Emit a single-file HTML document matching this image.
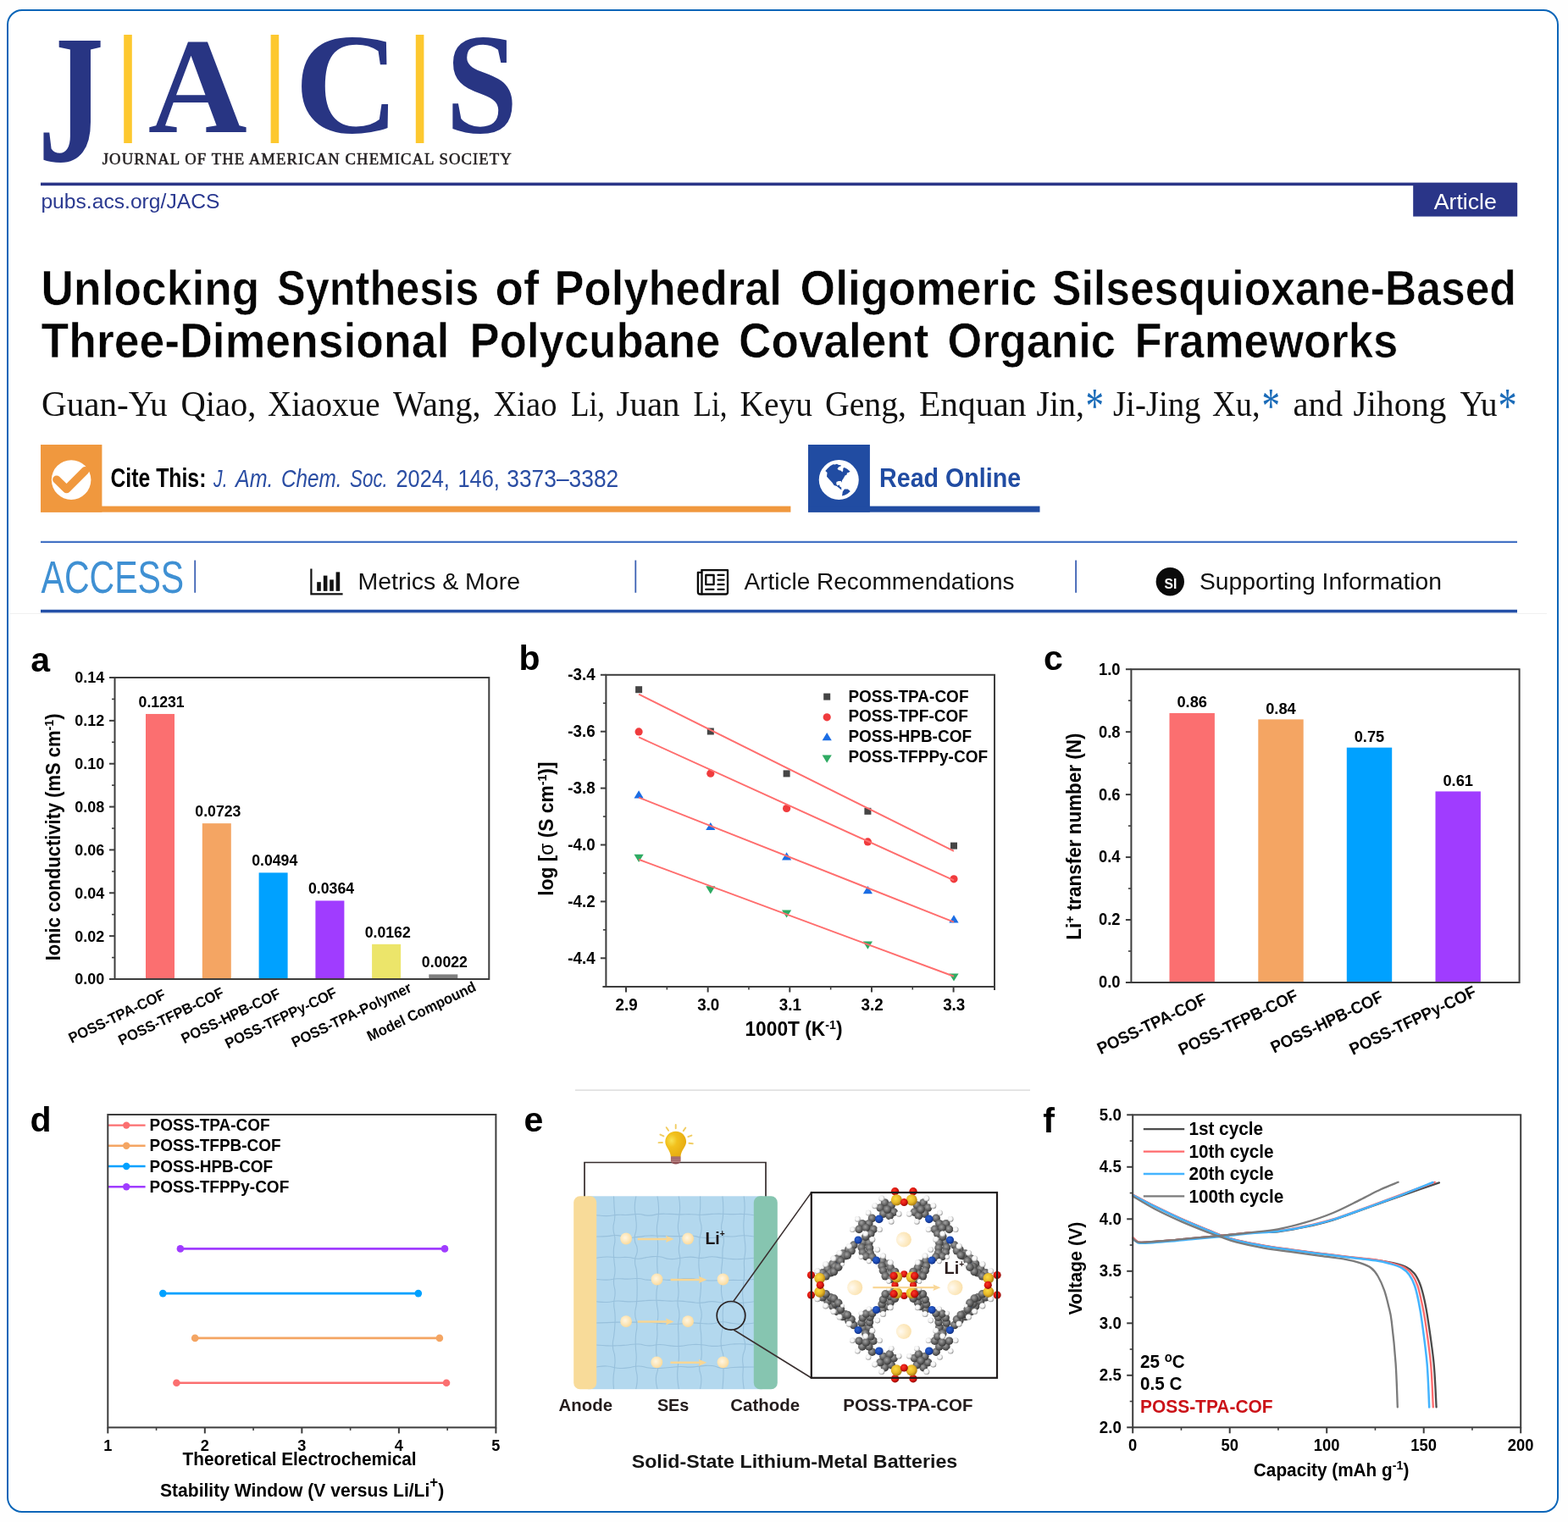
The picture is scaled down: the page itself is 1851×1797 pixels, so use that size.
<!DOCTYPE html>
<html lang="en">
<head>
<meta charset="utf-8">
<title>Unlocking Synthesis of Polyhedral Oligomeric Silsesquioxane-Based Three-Dimensional Polycubane Covalent Organic Frameworks</title>
<style>
html,body{margin:0;padding:0;background:#fff;}
body{width:1851px;height:1797px;overflow:hidden;}
svg{display:block;font-family:"Liberation Sans", Arial, Helvetica, sans-serif;font-weight:bold;}
svg .sf{font-family:"Liberation Serif", "Times New Roman", serif;}
</style>
</head>
<body>
<svg width="1851" height="1797" viewBox="0 0 1851 1797">
<rect width="1851" height="1797" fill="#fefefe"/>
<rect x="9" y="12" width="1830" height="1773" rx="17" ry="17" fill="#fff" stroke="#0a65b8" stroke-width="2"/>
<line x1="12" y1="724.5" x2="1826" y2="724.5" stroke="#f1f1f1" stroke-width="1"/>
<g class="sf" font-size="100" fill="#283583">
<text transform="translate(44.4 190.05) scale(1.5679 2.1633)">J</text>
<text transform="translate(174.65 155.78) scale(1.621 1.6081)">A</text>
<text transform="translate(347.85 155.78) scale(1.7074 1.6884)">C</text>
<text transform="translate(526.27 155.78) scale(1.5267 1.6884)">S</text>
</g>
<rect x="146.2" y="41" width="9.6" height="128" fill="#fdc82f"/>
<rect x="319.6" y="41" width="9.6" height="128" fill="#fdc82f"/>
<rect x="490.8" y="41" width="9.6" height="128" fill="#fdc82f"/>
<text x="120.8" y="194.2" font-size="18.7" class="sf" font-weight="normal" fill="#231f20" textLength="483" lengthAdjust="spacing" stroke="#231f20" stroke-width="0.55">JOURNAL OF THE AMERICAN CHEMICAL SOCIETY</text>
<rect x="48" y="215.6" width="1742.5" height="3.6" fill="#2a3588"/>
<rect x="1668.2" y="216" width="123" height="39.6" fill="#2a3588"/>
<text x="1729.8" y="247.1" font-size="25.8" font-weight="normal" fill="#fff" text-anchor="middle" textLength="74.2" lengthAdjust="spacingAndGlyphs">Article</text>
<text x="48.4" y="246.3" font-size="24.6" font-weight="normal" fill="#2a3990" textLength="211" lengthAdjust="spacingAndGlyphs">pubs.acs.org/JACS</text>
<g font-size="58" fill="#050505" stroke="#fefefe" stroke-width="0.6">
<text y="360"><tspan x="48.6" textLength="257.8" lengthAdjust="spacingAndGlyphs">Unlocking</tspan> <tspan x="327.1" textLength="238.3" lengthAdjust="spacingAndGlyphs">Synthesis</tspan> <tspan x="584.6" textLength="51.8" lengthAdjust="spacingAndGlyphs">of</tspan> <tspan x="654.6" textLength="268.3" lengthAdjust="spacingAndGlyphs">Polyhedral</tspan> <tspan x="944.6" textLength="279.3" lengthAdjust="spacingAndGlyphs">Oligomeric</tspan> <tspan x="1242.1" textLength="547.8" lengthAdjust="spacingAndGlyphs">Silsesquioxane-Based</tspan></text>
<text y="422"><tspan x="48.6" textLength="481.8" lengthAdjust="spacingAndGlyphs">Three-Dimensional</tspan> <tspan x="554.6" textLength="295.8" lengthAdjust="spacingAndGlyphs">Polycubane</tspan> <tspan x="872.1" textLength="224.3" lengthAdjust="spacingAndGlyphs">Covalent</tspan> <tspan x="1118.6" textLength="198.3" lengthAdjust="spacingAndGlyphs">Organic</tspan> <tspan x="1339.6" textLength="310.8" lengthAdjust="spacingAndGlyphs">Frameworks</tspan></text>
</g>
<text class="sf" font-size="42.5" font-weight="normal" fill="#111"><tspan x="49" y="491.3" textLength="148.5" lengthAdjust="spacingAndGlyphs">Guan-Yu</tspan> <tspan x="213.5" y="491.3" textLength="89" lengthAdjust="spacingAndGlyphs">Qiao,</tspan> <tspan x="316" y="491.3" textLength="132.5" lengthAdjust="spacingAndGlyphs">Xiaoxue</tspan> <tspan x="464" y="491.3" textLength="103.5" lengthAdjust="spacingAndGlyphs">Wang,</tspan> <tspan x="582.5" y="491.3" textLength="75" lengthAdjust="spacingAndGlyphs">Xiao</tspan> <tspan x="674" y="491.3" textLength="40" lengthAdjust="spacingAndGlyphs">Li,</tspan> <tspan x="727.5" y="491.3" textLength="75" lengthAdjust="spacingAndGlyphs">Juan</tspan> <tspan x="818.5" y="491.3" textLength="40" lengthAdjust="spacingAndGlyphs">Li,</tspan> <tspan x="873.5" y="491.3" textLength="85.5" lengthAdjust="spacingAndGlyphs">Keyu</tspan> <tspan x="974" y="491.3" textLength="96" lengthAdjust="spacingAndGlyphs">Geng,</tspan> <tspan x="1085" y="491.3" textLength="126.5" lengthAdjust="spacingAndGlyphs">Enquan</tspan> <tspan x="1223.5" y="491.3" textLength="56.5" lengthAdjust="spacingAndGlyphs">Jin,</tspan><tspan x="1281.5" y="498.6" font-size="58.6" fill="#1a6bb8" textLength="21.55" lengthAdjust="spacingAndGlyphs">*</tspan> <tspan x="1314" y="491.3" textLength="103.5" lengthAdjust="spacingAndGlyphs">Ji-Jing</tspan> <tspan x="1431" y="491.3" textLength="56.5" lengthAdjust="spacingAndGlyphs">Xu,</tspan><tspan x="1489.5" y="498.6" font-size="58.6" fill="#1a6bb8" textLength="21.55" lengthAdjust="spacingAndGlyphs">*</tspan> <tspan x="1526.5" y="491.3" textLength="58.5" lengthAdjust="spacingAndGlyphs">and</tspan> <tspan x="1597.5" y="491.3" textLength="110" lengthAdjust="spacingAndGlyphs">Jihong</tspan> <tspan x="1723.5" y="491.3" textLength="44" lengthAdjust="spacingAndGlyphs">Yu</tspan><tspan x="1768.5" y="498.6" font-size="58.6" fill="#1a6bb8" textLength="22.17" lengthAdjust="spacingAndGlyphs">*</tspan></text>
<rect x="48" y="525" width="72.4" height="79.7" fill="#f0983e"/>
<rect x="48" y="597.6" width="885.4" height="7.1" fill="#f0983e"/>
<circle cx="84.1" cy="566.6" r="23.3" fill="#fff"/>
<path d="M66.8 566.2 L78.6 577.6 L100.6 555.6" fill="none" stroke="#f0983e" stroke-width="9.4" stroke-linecap="round" stroke-linejoin="round"/>
<text x="130.4" y="574.9" font-size="30.6" textLength="113" lengthAdjust="spacingAndGlyphs">Cite This:</text>
<text y="574.9" font-size="30.4" font-weight="normal" fill="#2a4da3"><tspan x="252.1" font-style="italic" textLength="16.4" lengthAdjust="spacingAndGlyphs">J.</tspan> <tspan x="278" font-style="italic" textLength="44.5" lengthAdjust="spacingAndGlyphs">Am.</tspan> <tspan x="332" font-style="italic" textLength="71.6" lengthAdjust="spacingAndGlyphs">Chem.</tspan> <tspan x="413.1" font-style="italic" textLength="44.7" lengthAdjust="spacingAndGlyphs">Soc.</tspan> <tspan x="467.5" textLength="63.4" lengthAdjust="spacingAndGlyphs">2024,</tspan> <tspan x="540.4" textLength="49.5" lengthAdjust="spacingAndGlyphs">146,</tspan> <tspan x="598.3" textLength="131.9" lengthAdjust="spacingAndGlyphs">3373–3382</tspan></text>
<rect x="954" y="525" width="72.9" height="79.7" fill="#214ca2"/>
<rect x="954" y="597.6" width="273.5" height="7.1" fill="#214ca2"/>
<circle cx="990.25" cy="566.5" r="23.5" fill="#fff"/>
<path d="M974.3 555.9 L977.0 553.0 L980.3 550.0 L983.5 548.2 L985.7 548.5 L987.8 547.7 L990.2 548.9 L992.7 549.2 L992.8 550.3 L990.2 551.2 L988.5 553.6 L990.0 555.1 L992.9 555.8 L994.2 557.4 L995.2 555.7 L995.3 552.8 L996.9 552.1 L1000.2 553.8 L1003.6 556.7 L1002.0 557.8 L999.8 558.5 L999.8 560.3 L997.5 561.6 L995.9 564.4 L993.9 567.4 L993.9 569.8 L992.7 568.1 L990.0 568.0 L987.4 569.1 L987.3 571.8 L988.9 573.5 L990.5 572.3 L991.7 574.7 L993.2 575.6 L993.3 578.5 L991.1 576.8 L987.8 574.1 L984.6 573.1 L982.4 569.8 L979.4 566.6 L976.0 562.8 L976.5 557.9Z M994.0 585.6 L994.8 580.5 L996.9 577.4 L1000.8 577.5 L1003.8 580.0 L1000.8 582.8 L997.5 584.6Z" fill="#214ca2"/>
<text x="1038" y="574.9" font-size="30.6" fill="#214ca2" textLength="167.2" lengthAdjust="spacingAndGlyphs">Read Online</text>
<rect x="48" y="638.8" width="1743" height="2.2" fill="#4372c4"/>
<rect x="48" y="719.8" width="1743" height="3.6" fill="#2450a8"/>
<text x="48.6" y="699.6" font-size="54.2" font-weight="normal" fill="#3f90d3" textLength="168.6" lengthAdjust="spacingAndGlyphs">ACCESS</text>
<rect x="229.3" y="661.5" width="1.8" height="38.3" fill="#3d62b4"/>
<rect x="749.4" y="661.5" width="1.8" height="38.3" fill="#3d62b4"/>
<rect x="1269.2" y="661.5" width="1.8" height="38.3" fill="#3d62b4"/>
<path d="M367.4 671.6 V701.4 H404.6" fill="none" stroke="#111" stroke-width="2.2"/>
<rect x="374.2" y="687.2" width="4.6" height="10.6" fill="#111"/>
<rect x="381.8" y="679.6" width="4.6" height="18.2" fill="#111"/>
<rect x="389.2" y="684.4" width="4.6" height="13.4" fill="#111"/>
<rect x="396.6" y="675.4" width="4.6" height="22.4" fill="#111"/>
<text x="422.4" y="696.1" font-size="28.2" font-weight="normal" fill="#111" textLength="191.6" lengthAdjust="spacingAndGlyphs">Metrics &amp; More</text>
<g fill="none" stroke="#0a0a0a" stroke-width="2.3" stroke-linejoin="round" stroke-linecap="round"><path d="M828.5 673.1 H859 V699.3 Q859 701.5 856.8 701.5 H826.4 Q823.9 701.5 823.9 699 V675.8 H828.3"/><path d="M828.5 673.1 V701.4"/><rect x="833.3" y="679" width="9.3" height="11.2"/><path d="M847.6 678.9 H854.5 M847.6 684.6 H854.5 M847.6 690.2 H854.5 M847.6 695.9 H854.5 M833.3 695.9 H842.4"/></g>
<text x="878.4" y="696.1" font-size="28.2" font-weight="normal" fill="#111" textLength="319.2" lengthAdjust="spacingAndGlyphs">Article Recommendations</text>
<circle cx="1381.3" cy="686.7" r="16.7" fill="#0a0a0a"/>
<text x="1381.9" y="694.8" font-size="16.4" fill="#fff" text-anchor="middle" textLength="14.8" lengthAdjust="spacingAndGlyphs">SI</text>
<text x="1416" y="696.1" font-size="28.2" font-weight="normal" fill="#111" textLength="286" lengthAdjust="spacingAndGlyphs">Supporting Information</text>
<g id="pa"><text x="36.2" y="792.5" font-size="41">a</text>
<rect x="172" y="842.97" width="34" height="313.03" fill="#fb6f70"/>
<rect x="238.8" y="972.15" width="34" height="183.85" fill="#f4a563"/>
<rect x="305.6" y="1030.38" width="34" height="125.62" fill="#00a1ff"/>
<rect x="372.4" y="1063.44" width="34" height="92.56" fill="#a03cff"/>
<rect x="439.1" y="1114.81" width="34" height="41.19" fill="#ece56a"/>
<rect x="506.3" y="1150.41" width="34" height="5.59" fill="#808080"/>
<rect x="135.5" y="800" width="441.8" height="356" fill="none" stroke="#3d3d3d" stroke-width="2"/>
<line x1="129" y1="1156" x2="135.5" y2="1156" stroke="#3d3d3d" stroke-width="2"/>
<text transform="translate(123.2 1162.4) scale(0.95 1)" font-size="18.94" text-anchor="end">0.00</text>
<line x1="132" y1="1130.57" x2="135.5" y2="1130.57" stroke="#3d3d3d" stroke-width="1.6"/>
<line x1="129" y1="1105.14" x2="135.5" y2="1105.14" stroke="#3d3d3d" stroke-width="2"/>
<text transform="translate(123.2 1111.54) scale(0.95 1)" font-size="18.94" text-anchor="end">0.02</text>
<line x1="132" y1="1079.71" x2="135.5" y2="1079.71" stroke="#3d3d3d" stroke-width="1.6"/>
<line x1="129" y1="1054.29" x2="135.5" y2="1054.29" stroke="#3d3d3d" stroke-width="2"/>
<text transform="translate(123.2 1060.69) scale(0.95 1)" font-size="18.94" text-anchor="end">0.04</text>
<line x1="132" y1="1028.86" x2="135.5" y2="1028.86" stroke="#3d3d3d" stroke-width="1.6"/>
<line x1="129" y1="1003.43" x2="135.5" y2="1003.43" stroke="#3d3d3d" stroke-width="2"/>
<text transform="translate(123.2 1009.83) scale(0.95 1)" font-size="18.94" text-anchor="end">0.06</text>
<line x1="132" y1="978" x2="135.5" y2="978" stroke="#3d3d3d" stroke-width="1.6"/>
<line x1="129" y1="952.57" x2="135.5" y2="952.57" stroke="#3d3d3d" stroke-width="2"/>
<text transform="translate(123.2 958.97) scale(0.95 1)" font-size="18.94" text-anchor="end">0.08</text>
<line x1="132" y1="927.14" x2="135.5" y2="927.14" stroke="#3d3d3d" stroke-width="1.6"/>
<line x1="129" y1="901.71" x2="135.5" y2="901.71" stroke="#3d3d3d" stroke-width="2"/>
<text transform="translate(123.2 908.11) scale(0.95 1)" font-size="18.94" text-anchor="end">0.10</text>
<line x1="132" y1="876.29" x2="135.5" y2="876.29" stroke="#3d3d3d" stroke-width="1.6"/>
<line x1="129" y1="850.86" x2="135.5" y2="850.86" stroke="#3d3d3d" stroke-width="2"/>
<text transform="translate(123.2 857.26) scale(0.95 1)" font-size="18.94" text-anchor="end">0.12</text>
<line x1="132" y1="825.43" x2="135.5" y2="825.43" stroke="#3d3d3d" stroke-width="1.6"/>
<line x1="129" y1="800" x2="135.5" y2="800" stroke="#3d3d3d" stroke-width="2"/>
<text transform="translate(123.2 806.4) scale(0.95 1)" font-size="18.94" text-anchor="end">0.14</text>
<text transform="translate(190.6 834.97) scale(0.95 1)" font-size="18.62" text-anchor="middle">0.1231</text>
<text transform="translate(257.4 964.15) scale(0.95 1)" font-size="18.62" text-anchor="middle">0.0723</text>
<text transform="translate(324.2 1022.38) scale(0.95 1)" font-size="18.62" text-anchor="middle">0.0494</text>
<text transform="translate(391 1055.44) scale(0.95 1)" font-size="18.62" text-anchor="middle">0.0364</text>
<text transform="translate(457.7 1106.81) scale(0.95 1)" font-size="18.62" text-anchor="middle">0.0162</text>
<text transform="translate(524.9 1142.41) scale(0.95 1)" font-size="18.62" text-anchor="middle">0.0022</text>
<text transform="translate(70.6 988.4) rotate(-90) scale(0.95 1)" font-size="23.11" text-anchor="middle">Ionic conductivity (mS cm<tspan dy="-8" font-size="14.98">-1</tspan><tspan dy="8">)</tspan></text>
<text transform="translate(196.6 1178.4) rotate(-25.6) scale(0.95 1)" font-size="17.49" text-anchor="end">POSS-TPA-COF</text>
<text transform="translate(265.6 1176) rotate(-25.6) scale(0.95 1)" font-size="17.49" text-anchor="end">POSS-TFPB-COF</text>
<text transform="translate(332.4 1177.4) rotate(-25.6) scale(0.95 1)" font-size="17.49" text-anchor="end">POSS-HPB-COF</text>
<text transform="translate(399 1176.2) rotate(-25.6) scale(0.95 1)" font-size="17.49" text-anchor="end">POSS-TFPPy-COF</text>
<text transform="translate(487.2 1170.2) rotate(-25.6) scale(0.95 1)" font-size="17.49" text-anchor="end">POSS-TPA-Polymer</text>
<text transform="translate(563.2 1169.2) rotate(-25.6) scale(0.95 1)" font-size="17.49" text-anchor="end">Model Compound</text></g>
<g id="pb"><text x="612.6" y="790.6" font-size="41">b</text>
<rect x="750.1" y="810.2" width="8" height="8" fill="#454545"/>
<rect x="834.8" y="859.5" width="8" height="8" fill="#454545"/>
<rect x="924.6" y="909.4" width="8" height="8" fill="#454545"/>
<rect x="1020.4" y="953.8" width="8" height="8" fill="#454545"/>
<rect x="1122" y="994.6" width="8" height="8" fill="#454545"/>
<circle cx="754.1" cy="863.9" r="4.6" fill="#f03b3d"/>
<circle cx="838.8" cy="913.2" r="4.6" fill="#f03b3d"/>
<circle cx="928.6" cy="954.5" r="4.6" fill="#f03b3d"/>
<circle cx="1024.4" cy="993.9" r="4.6" fill="#f03b3d"/>
<circle cx="1126" cy="1037.8" r="4.6" fill="#f03b3d"/>
<path d="M754.1 933.3 l5.6 9.2 h-11.2 z" fill="#1b6de4"/>
<path d="M838.8 970.9 l5.6 9.2 h-11.2 z" fill="#1b6de4"/>
<path d="M928.6 1006.2 l5.6 9.2 h-11.2 z" fill="#1b6de4"/>
<path d="M1024.4 1046 l5.6 9.2 h-11.2 z" fill="#1b6de4"/>
<path d="M1126 1080.2 l5.6 9.2 h-11.2 z" fill="#1b6de4"/>
<path d="M754.1 1017.9 l5.6 -9.2 h-11.2 z" fill="#2fab63"/>
<path d="M838.8 1055.4 l5.6 -9.2 h-11.2 z" fill="#2fab63"/>
<path d="M928.6 1083.6 l5.6 -9.2 h-11.2 z" fill="#2fab63"/>
<path d="M1024.4 1120.7 l5.6 -9.2 h-11.2 z" fill="#2fab63"/>
<path d="M1126 1158.6 l5.6 -9.2 h-11.2 z" fill="#2fab63"/>
<line x1="754.1" y1="819.6" x2="1126" y2="1004.8" stroke="#ff6e6e" stroke-width="2"/>
<line x1="754.1" y1="870.4" x2="1126" y2="1039.4" stroke="#ff6e6e" stroke-width="2"/>
<line x1="754.1" y1="941.6" x2="1126" y2="1088.6" stroke="#ff6e6e" stroke-width="2"/>
<line x1="754.1" y1="1014.8" x2="1126" y2="1152.8" stroke="#ff6e6e" stroke-width="2"/>
<rect x="715.4" y="796.8" width="458.6" height="368.2" fill="none" stroke="#3d3d3d" stroke-width="2"/>
<line x1="711.4" y1="1165" x2="715.4" y2="1165" stroke="#3d3d3d" stroke-width="2"/>
<line x1="708.9" y1="796.8" x2="715.4" y2="796.8" stroke="#3d3d3d" stroke-width="2"/>
<text transform="translate(702.6 803.3) scale(0.95 1)" font-size="19.8" text-anchor="end">-3.4</text>
<line x1="711.9" y1="830.25" x2="715.4" y2="830.25" stroke="#3d3d3d" stroke-width="1.6"/>
<line x1="708.9" y1="863.7" x2="715.4" y2="863.7" stroke="#3d3d3d" stroke-width="2"/>
<text transform="translate(702.6 870.2) scale(0.95 1)" font-size="19.8" text-anchor="end">-3.6</text>
<line x1="711.9" y1="897.15" x2="715.4" y2="897.15" stroke="#3d3d3d" stroke-width="1.6"/>
<line x1="708.9" y1="930.6" x2="715.4" y2="930.6" stroke="#3d3d3d" stroke-width="2"/>
<text transform="translate(702.6 937.1) scale(0.95 1)" font-size="19.8" text-anchor="end">-3.8</text>
<line x1="711.9" y1="964.05" x2="715.4" y2="964.05" stroke="#3d3d3d" stroke-width="1.6"/>
<line x1="708.9" y1="997.5" x2="715.4" y2="997.5" stroke="#3d3d3d" stroke-width="2"/>
<text transform="translate(702.6 1004) scale(0.95 1)" font-size="19.8" text-anchor="end">-4.0</text>
<line x1="711.9" y1="1030.95" x2="715.4" y2="1030.95" stroke="#3d3d3d" stroke-width="1.6"/>
<line x1="708.9" y1="1064.4" x2="715.4" y2="1064.4" stroke="#3d3d3d" stroke-width="2"/>
<text transform="translate(702.6 1070.9) scale(0.95 1)" font-size="19.8" text-anchor="end">-4.2</text>
<line x1="711.9" y1="1097.85" x2="715.4" y2="1097.85" stroke="#3d3d3d" stroke-width="1.6"/>
<line x1="708.9" y1="1131.3" x2="715.4" y2="1131.3" stroke="#3d3d3d" stroke-width="2"/>
<text transform="translate(702.6 1137.8) scale(0.95 1)" font-size="19.8" text-anchor="end">-4.4</text>
<line x1="739" y1="1165" x2="739" y2="1171.5" stroke="#3d3d3d" stroke-width="2"/>
<text transform="translate(739.6 1192.8) scale(0.95 1)" font-size="19.8" text-anchor="middle">2.9</text>
<line x1="835.65" y1="1165" x2="835.65" y2="1171.5" stroke="#3d3d3d" stroke-width="2"/>
<text transform="translate(836.25 1192.8) scale(0.95 1)" font-size="19.8" text-anchor="middle">3.0</text>
<line x1="932.3" y1="1165" x2="932.3" y2="1171.5" stroke="#3d3d3d" stroke-width="2"/>
<text transform="translate(932.9 1192.8) scale(0.95 1)" font-size="19.8" text-anchor="middle">3.1</text>
<line x1="1028.95" y1="1165" x2="1028.95" y2="1171.5" stroke="#3d3d3d" stroke-width="2"/>
<text transform="translate(1029.55 1192.8) scale(0.95 1)" font-size="19.8" text-anchor="middle">3.2</text>
<line x1="1125.6" y1="1165" x2="1125.6" y2="1171.5" stroke="#3d3d3d" stroke-width="2"/>
<text transform="translate(1126.2 1192.8) scale(0.95 1)" font-size="19.8" text-anchor="middle">3.3</text>
<line x1="787.33" y1="1165" x2="787.33" y2="1168.5" stroke="#3d3d3d" stroke-width="1.6"/>
<line x1="883.97" y1="1165" x2="883.97" y2="1168.5" stroke="#3d3d3d" stroke-width="1.6"/>
<line x1="980.62" y1="1165" x2="980.62" y2="1168.5" stroke="#3d3d3d" stroke-width="1.6"/>
<line x1="1077.28" y1="1165" x2="1077.28" y2="1168.5" stroke="#3d3d3d" stroke-width="1.6"/>
<line x1="1174" y1="1165" x2="1174" y2="1169" stroke="#3d3d3d" stroke-width="2"/>
<text transform="translate(937 1222.6) scale(0.95 1)" font-size="23.97" text-anchor="middle">1000T (K<tspan dy="-8" font-size="14.98">-1</tspan><tspan dy="8">)</tspan></text>
<text transform="translate(653 978.6) rotate(-90) scale(0.95 1)" font-size="23.97" text-anchor="middle">log [<tspan font-weight="normal">σ</tspan> (S cm<tspan dy="-8" font-size="14.98">-1</tspan><tspan dy="8">)]</tspan></text>
<rect x="972.2" y="818.6" width="8" height="8" fill="#454545"/>
<circle cx="976.2" cy="846.8" r="4.6" fill="#f03b3d"/>
<path d="M976.2 865 l5.6 9.2 h-11.2 z" fill="#1b6de4"/>
<path d="M976.2 900.8 l5.6 -9.2 h-11.2 z" fill="#2fab63"/>
<text transform="translate(1001.4 828.6) scale(0.95 1)" font-size="20.01">POSS-TPA-COF</text>
<text transform="translate(1001.4 852.4) scale(0.95 1)" font-size="20.01">POSS-TPF-COF</text>
<text transform="translate(1001.4 876.4) scale(0.95 1)" font-size="20.01">POSS-HPB-COF</text>
<text transform="translate(1001.4 900.4) scale(0.95 1)" font-size="20.01">POSS-TFPPy-COF</text></g>
<g id="pc"><text x="1232" y="791.4" font-size="41">c</text>
<rect x="1380.5" y="841.97" width="53.4" height="318.03" fill="#fb6f70"/>
<rect x="1485.3" y="849.37" width="53.4" height="310.63" fill="#f4a563"/>
<rect x="1589.8" y="882.65" width="53.4" height="277.35" fill="#00a1ff"/>
<rect x="1694.5" y="934.42" width="53.4" height="225.58" fill="#a03cff"/>
<rect x="1335.4" y="790.2" width="458.2" height="369.8" fill="none" stroke="#3d3d3d" stroke-width="2"/>
<line x1="1328.9" y1="1160" x2="1335.4" y2="1160" stroke="#3d3d3d" stroke-width="2"/>
<text transform="translate(1322.6 1166.4) scale(0.95 1)" font-size="19.37" text-anchor="end">0.0</text>
<line x1="1331.9" y1="1123.02" x2="1335.4" y2="1123.02" stroke="#3d3d3d" stroke-width="1.6"/>
<line x1="1328.9" y1="1086.04" x2="1335.4" y2="1086.04" stroke="#3d3d3d" stroke-width="2"/>
<text transform="translate(1322.6 1092.44) scale(0.95 1)" font-size="19.37" text-anchor="end">0.2</text>
<line x1="1331.9" y1="1049.06" x2="1335.4" y2="1049.06" stroke="#3d3d3d" stroke-width="1.6"/>
<line x1="1328.9" y1="1012.08" x2="1335.4" y2="1012.08" stroke="#3d3d3d" stroke-width="2"/>
<text transform="translate(1322.6 1018.48) scale(0.95 1)" font-size="19.37" text-anchor="end">0.4</text>
<line x1="1331.9" y1="975.1" x2="1335.4" y2="975.1" stroke="#3d3d3d" stroke-width="1.6"/>
<line x1="1328.9" y1="938.12" x2="1335.4" y2="938.12" stroke="#3d3d3d" stroke-width="2"/>
<text transform="translate(1322.6 944.52) scale(0.95 1)" font-size="19.37" text-anchor="end">0.6</text>
<line x1="1331.9" y1="901.14" x2="1335.4" y2="901.14" stroke="#3d3d3d" stroke-width="1.6"/>
<line x1="1328.9" y1="864.16" x2="1335.4" y2="864.16" stroke="#3d3d3d" stroke-width="2"/>
<text transform="translate(1322.6 870.56) scale(0.95 1)" font-size="19.37" text-anchor="end">0.8</text>
<line x1="1331.9" y1="827.18" x2="1335.4" y2="827.18" stroke="#3d3d3d" stroke-width="1.6"/>
<line x1="1328.9" y1="790.2" x2="1335.4" y2="790.2" stroke="#3d3d3d" stroke-width="2"/>
<text transform="translate(1322.6 796.6) scale(0.95 1)" font-size="19.37" text-anchor="end">1.0</text>
<text transform="translate(1407.2 835.17) scale(0.95 1)" font-size="19.26" text-anchor="middle">0.86</text>
<text transform="translate(1512 842.57) scale(0.95 1)" font-size="19.26" text-anchor="middle">0.84</text>
<text transform="translate(1616.5 875.85) scale(0.95 1)" font-size="19.26" text-anchor="middle">0.75</text>
<text transform="translate(1721.2 927.62) scale(0.95 1)" font-size="19.26" text-anchor="middle">0.61</text>
<text transform="translate(1276.2 987.6) rotate(-90) scale(0.95 1)" font-size="23.65" text-anchor="middle">Li<tspan dy="-8" font-size="14.98">+</tspan><tspan dy="8"> transfer number (N)</tspan></text>
<text transform="translate(1426 1184.6) rotate(-25.6) scale(0.95 1)" font-size="19.8" text-anchor="end">POSS-TPA-COF</text>
<text transform="translate(1533.6 1180) rotate(-25.6) scale(0.95 1)" font-size="19.8" text-anchor="end">POSS-TFPB-COF</text>
<text transform="translate(1634 1181.6) rotate(-25.6) scale(0.95 1)" font-size="19.8" text-anchor="end">POSS-HPB-COF</text>
<text transform="translate(1744 1175.6) rotate(-25.6) scale(0.95 1)" font-size="19.8" text-anchor="end">POSS-TFPPy-COF</text></g>
<g id="pd"><text x="35.6" y="1336.2" font-size="41">d</text>
<line x1="127.3" y1="1328.6" x2="171.6" y2="1328.6" stroke="#fb6f70" stroke-width="2.4"/>
<circle cx="149.2" cy="1328.6" r="4.2" fill="#fb6f70"/>
<text transform="translate(176.6 1335.1) scale(0.95 1)" font-size="20.01">POSS-TPA-COF</text>
<line x1="127.3" y1="1352.8" x2="171.6" y2="1352.8" stroke="#f4a563" stroke-width="2.4"/>
<circle cx="149.2" cy="1352.8" r="4.2" fill="#f4a563"/>
<text transform="translate(176.6 1359.3) scale(0.95 1)" font-size="20.01">POSS-TFPB-COF</text>
<line x1="127.3" y1="1377" x2="171.6" y2="1377" stroke="#00a1ff" stroke-width="2.4"/>
<circle cx="149.2" cy="1377" r="4.2" fill="#00a1ff"/>
<text transform="translate(176.6 1383.5) scale(0.95 1)" font-size="20.01">POSS-HPB-COF</text>
<line x1="127.3" y1="1401.3" x2="171.6" y2="1401.3" stroke="#a03cff" stroke-width="2.4"/>
<circle cx="149.2" cy="1401.3" r="4.2" fill="#a03cff"/>
<text transform="translate(176.6 1407.8) scale(0.95 1)" font-size="20.01">POSS-TFPPy-COF</text>
<line x1="212.9" y1="1474.4" x2="525" y2="1474.4" stroke="#a03cff" stroke-width="2.6"/>
<circle cx="212.9" cy="1474.4" r="4.3" fill="#a03cff"/>
<circle cx="525" cy="1474.4" r="4.3" fill="#a03cff"/>
<line x1="192.3" y1="1527.1" x2="493.8" y2="1527.1" stroke="#00a1ff" stroke-width="2.6"/>
<circle cx="192.3" cy="1527.1" r="4.3" fill="#00a1ff"/>
<circle cx="493.8" cy="1527.1" r="4.3" fill="#00a1ff"/>
<line x1="230.2" y1="1579.9" x2="518.9" y2="1579.9" stroke="#f4a563" stroke-width="2.6"/>
<circle cx="230.2" cy="1579.9" r="4.3" fill="#f4a563"/>
<circle cx="518.9" cy="1579.9" r="4.3" fill="#f4a563"/>
<line x1="208.4" y1="1632.8" x2="527" y2="1632.8" stroke="#fb6f70" stroke-width="2.6"/>
<circle cx="208.4" cy="1632.8" r="4.3" fill="#fb6f70"/>
<circle cx="527" cy="1632.8" r="4.3" fill="#fb6f70"/>
<rect x="127.3" y="1316" width="458.1" height="369.4" fill="none" stroke="#3d3d3d" stroke-width="2"/>
<line x1="127.3" y1="1685.4" x2="127.3" y2="1692.4" stroke="#3d3d3d" stroke-width="2"/>
<text transform="translate(127.3 1712.6) scale(0.95 1)" font-size="19.15" text-anchor="middle">1</text>
<line x1="184.56" y1="1685.4" x2="184.56" y2="1688.9" stroke="#3d3d3d" stroke-width="1.6"/>
<line x1="241.82" y1="1685.4" x2="241.82" y2="1692.4" stroke="#3d3d3d" stroke-width="2"/>
<text transform="translate(241.82 1712.6) scale(0.95 1)" font-size="19.15" text-anchor="middle">2</text>
<line x1="299.09" y1="1685.4" x2="299.09" y2="1688.9" stroke="#3d3d3d" stroke-width="1.6"/>
<line x1="356.35" y1="1685.4" x2="356.35" y2="1692.4" stroke="#3d3d3d" stroke-width="2"/>
<text transform="translate(356.35 1712.6) scale(0.95 1)" font-size="19.15" text-anchor="middle">3</text>
<line x1="413.61" y1="1685.4" x2="413.61" y2="1688.9" stroke="#3d3d3d" stroke-width="1.6"/>
<line x1="470.88" y1="1685.4" x2="470.88" y2="1692.4" stroke="#3d3d3d" stroke-width="2"/>
<text transform="translate(470.88 1712.6) scale(0.95 1)" font-size="19.15" text-anchor="middle">4</text>
<line x1="528.14" y1="1685.4" x2="528.14" y2="1688.9" stroke="#3d3d3d" stroke-width="1.6"/>
<line x1="585.4" y1="1685.4" x2="585.4" y2="1692.4" stroke="#3d3d3d" stroke-width="2"/>
<text transform="translate(585.4 1712.6) scale(0.95 1)" font-size="19.15" text-anchor="middle">5</text>
<text transform="translate(353.6 1730.2) scale(0.95 1)" font-size="21.88" text-anchor="middle">Theoretical Electrochemical</text>
<text transform="translate(356.6 1766.6) scale(0.95 1)" font-size="22.2" text-anchor="middle">Stability Window (V versus Li/Li<tspan dy="-10.5" font-size="17.76">+</tspan><tspan dy="10.5">)</tspan></text></g>
<g id="pe"><defs><radialGradient id="li" cx="0.42" cy="0.42" r="0.62"><stop offset="0" stop-color="#fff6e2"/><stop offset="0.55" stop-color="#fde7bb"/><stop offset="1" stop-color="#f9d99a"/></radialGradient><radialGradient id="li2" cx="0.3" cy="0.5" r="0.75"><stop offset="0" stop-color="#fffaf0"/><stop offset="0.5" stop-color="#fdecc8"/><stop offset="1" stop-color="#fadfa8"/></radialGradient><radialGradient id="bulb" cx="0.3" cy="0.36" r="0.75"><stop offset="0" stop-color="#f7e356"/><stop offset="0.35" stop-color="#f2c11d"/><stop offset="1" stop-color="#e5a910"/></radialGradient><radialGradient id="sg" cx="0.4" cy="0.38" r="0.65"><stop offset="0" stop-color="#a2a2a2"/><stop offset="0.5" stop-color="#6c6c6c"/><stop offset="1" stop-color="#333333"/></radialGradient><radialGradient id="sw" cx="0.42" cy="0.4" r="0.65"><stop offset="0" stop-color="#ffffff"/><stop offset="0.55" stop-color="#f1f1f1"/><stop offset="1" stop-color="#7d7d7d"/></radialGradient><radialGradient id="sb" cx="0.4" cy="0.38" r="0.65"><stop offset="0" stop-color="#2e62d0"/><stop offset="0.6" stop-color="#1a48b0"/><stop offset="1" stop-color="#0e2a78"/></radialGradient><radialGradient id="sr" cx="0.4" cy="0.38" r="0.65"><stop offset="0" stop-color="#f8382a"/><stop offset="0.55" stop-color="#de1710"/><stop offset="1" stop-color="#8a0a06"/></radialGradient><radialGradient id="sy" cx="0.4" cy="0.38" r="0.65"><stop offset="0" stop-color="#fadb45"/><stop offset="0.55" stop-color="#e9ba28"/><stop offset="1" stop-color="#a87a12"/></radialGradient></defs>
<line x1="679" y1="1287.2" x2="1216" y2="1287.2" stroke="#d6d6d6" stroke-width="1.2"/>
<text x="618.6" y="1335.8" font-size="41">e</text>
<path d="M690 1413 V1372.5 H904 V1413" fill="none" stroke="#352c2c" stroke-width="1.7"/>
<rect x="694" y="1412.3" width="206" height="227.9" fill="#b3d8ee"/>
<g fill="none" stroke="#8fb9d6" stroke-width="1.1" opacity="0.75"><path d="M724.5 1412.5C724.68 1416.29 724.74 1417.56 725.1 1425.14C725.46 1432.72 726.02 1430.19 725.69 1437.78C725.35 1445.36 723.91 1442.83 723.99 1450.42C724.07 1458 725.84 1455.47 725.95 1463.06C726.07 1470.64 724.68 1468.11 724.38 1475.69C724.08 1483.28 724.47 1480.75 724.96 1488.33C725.44 1495.92 726.15 1493.39 726 1500.97C725.86 1508.56 724.45 1506.03 724.47 1513.61C724.5 1521.19 726 1518.67 726.07 1526.25C726.15 1533.83 724.76 1531.31 724.73 1538.89C724.69 1546.47 725.61 1543.94 725.96 1551.53C726.31 1559.11 726.25 1556.58 725.89 1564.17C725.53 1571.75 725.51 1569.22 724.76 1576.81C724.01 1584.39 723.08 1581.86 723.39 1589.44C723.7 1597.03 725.16 1594.5 725.78 1602.08C726.39 1609.67 725.95 1607.14 725.44 1614.72C724.93 1622.31 724.35 1619.78 724.07 1627.36C723.78 1634.94 724.37 1636.21 724.5 1640"/><path d="M750.8 1412.5C750.34 1416.29 749.36 1417.56 749.28 1425.14C749.2 1432.72 749.98 1430.19 750.54 1437.78C751.1 1445.36 751.56 1442.83 751.15 1450.42C750.74 1458 748.82 1455.47 749.18 1463.06C749.54 1470.64 752.22 1468.11 752.34 1475.69C752.46 1483.28 749.83 1480.75 749.58 1488.33C749.33 1495.92 750.79 1493.39 751.52 1500.97C752.24 1508.56 751.83 1506.03 752.01 1513.61C752.18 1521.19 752.27 1518.67 752.1 1526.25C751.93 1533.83 752.16 1531.31 751.45 1538.89C750.74 1546.47 749.59 1543.94 749.73 1551.53C749.86 1559.11 751.65 1556.58 751.89 1564.17C752.12 1571.75 750.99 1569.22 750.52 1576.81C750.06 1584.39 750.11 1581.86 750.33 1589.44C750.54 1597.03 751.14 1594.5 751.23 1602.08C751.33 1609.67 750.32 1607.14 750.64 1614.72C750.95 1622.31 752.24 1619.78 752.29 1627.36C752.34 1634.94 751.25 1636.21 750.8 1640"/><path d="M776 1412.5C776.45 1416.29 777.2 1417.56 777.5 1425.14C777.8 1432.72 777.63 1430.19 777 1437.78C776.37 1445.36 775.61 1442.83 775.39 1450.42C775.16 1458 775.87 1455.47 776.25 1463.06C776.62 1470.64 776.79 1468.11 776.63 1475.69C776.47 1483.28 775.85 1480.75 775.71 1488.33C775.57 1495.92 775.87 1493.39 776.16 1500.97C776.45 1508.56 777.03 1506.03 776.68 1513.61C776.33 1521.19 775.41 1518.67 775 1526.25C774.59 1533.83 774.76 1531.31 775.32 1538.89C775.88 1546.47 776.74 1543.94 776.87 1551.53C777 1559.11 776.03 1556.58 775.75 1564.17C775.46 1571.75 776.22 1569.22 775.91 1576.81C775.61 1584.39 774.93 1581.86 774.72 1589.44C774.52 1597.03 774.62 1594.5 775.22 1602.08C775.82 1609.67 776.98 1607.14 776.72 1614.72C776.47 1622.31 774.58 1619.78 774.37 1627.36C774.15 1634.94 775.51 1636.21 776 1640"/><path d="M801.3 1412.5C801.69 1416.29 802.52 1417.56 802.6 1425.14C802.68 1432.72 802.23 1430.19 801.58 1437.78C800.93 1445.36 800.15 1442.83 800.43 1450.42C800.7 1458 802.21 1455.47 802.48 1463.06C802.76 1470.64 801.22 1468.11 801.34 1475.69C801.45 1483.28 803.05 1480.75 802.87 1488.33C802.68 1495.92 801.47 1493.39 800.73 1500.97C799.99 1508.56 800.3 1506.03 800.4 1513.61C800.5 1521.19 801.16 1518.67 801.05 1526.25C800.94 1533.83 799.76 1531.31 800.02 1538.89C800.29 1546.47 801.75 1543.94 801.93 1551.53C802.12 1559.11 800.92 1556.58 800.64 1564.17C800.35 1571.75 800.86 1569.22 800.98 1576.81C801.1 1584.39 800.89 1581.86 801.03 1589.44C801.17 1597.03 801.71 1594.5 801.45 1602.08C801.18 1609.67 800.64 1607.14 800.14 1614.72C799.65 1622.31 799.44 1619.78 799.79 1627.36C800.13 1634.94 800.85 1636.21 801.3 1640"/><path d="M826.6 1412.5C826.63 1416.29 826.86 1417.56 826.69 1425.14C826.52 1432.72 825.62 1430.19 826.04 1437.78C826.46 1445.36 828.13 1442.83 828.09 1450.42C828.06 1458 826.51 1455.47 825.91 1463.06C825.32 1470.64 826.4 1468.11 826.1 1475.69C825.8 1483.28 825.1 1480.75 824.92 1488.33C824.75 1495.92 824.78 1493.39 825.51 1500.97C826.23 1508.56 826.89 1506.03 827.33 1513.61C827.78 1521.19 827.38 1518.67 826.99 1526.25C826.6 1533.83 825.66 1531.31 826.03 1538.89C826.4 1546.47 828.01 1543.94 828.22 1551.53C828.43 1559.11 826.88 1556.58 826.73 1564.17C826.58 1571.75 827.38 1569.22 827.73 1576.81C828.08 1584.39 827.79 1581.86 827.9 1589.44C828.01 1597.03 828.76 1594.5 828.1 1602.08C827.44 1609.67 825.76 1607.14 825.69 1614.72C825.62 1622.31 827.59 1619.78 827.86 1627.36C828.13 1634.94 826.98 1636.21 826.6 1640"/><path d="M852.9 1412.5C853.16 1416.29 853.65 1417.56 853.76 1425.14C853.87 1432.72 853.91 1430.19 853.27 1437.78C852.63 1445.36 851.32 1442.83 851.64 1450.42C851.95 1458 853.9 1455.47 854.33 1463.06C854.76 1470.64 853.55 1468.11 853.07 1475.69C852.59 1483.28 853.17 1480.75 852.73 1488.33C852.29 1495.92 851.87 1493.39 851.6 1500.97C851.32 1508.56 851.79 1506.03 851.81 1513.61C851.83 1521.19 851.11 1518.67 851.66 1526.25C852.21 1533.83 853.2 1531.31 853.65 1538.89C854.11 1546.47 853.27 1543.94 853.19 1551.53C853.11 1559.11 853.86 1556.58 853.38 1564.17C852.9 1571.75 852.2 1569.22 851.59 1576.81C850.98 1584.39 850.6 1581.86 851.34 1589.44C852.09 1597.03 853.29 1594.5 854.09 1602.08C854.88 1609.67 854.08 1607.14 854 1614.72C853.92 1622.31 854.14 1619.78 853.81 1627.36C853.48 1634.94 853.17 1636.21 852.9 1640"/><path d="M878.2 1412.5C878.47 1416.29 879.09 1417.56 879.11 1425.14C879.12 1432.72 878.61 1430.19 878.25 1437.78C877.89 1445.36 877.67 1442.83 877.9 1450.42C878.12 1458 878.41 1455.47 879.01 1463.06C879.6 1470.64 880.05 1468.11 879.89 1475.69C879.73 1483.28 878.85 1480.75 878.48 1488.33C878.1 1495.92 878.79 1493.39 878.64 1500.97C878.49 1508.56 878.57 1506.03 877.97 1513.61C877.38 1521.19 876.79 1518.67 876.66 1526.25C876.53 1533.83 877.11 1531.31 877.55 1538.89C878 1546.47 878.07 1543.94 878.15 1551.53C878.22 1559.11 877.96 1556.58 877.8 1564.17C877.64 1571.75 877.03 1569.22 877.6 1576.81C878.18 1584.39 879.94 1581.86 879.72 1589.44C879.49 1597.03 877.58 1594.5 876.84 1602.08C876.1 1609.67 877.22 1607.14 877.25 1614.72C877.27 1622.31 876.64 1619.78 876.93 1627.36C877.21 1634.94 877.82 1636.21 878.2 1640"/><path d="M704 1434.7C707.72 1434.97 708.96 1435.69 716.4 1435.59C723.84 1435.5 721.36 1434.74 728.8 1434.38C736.24 1434.02 733.76 1434.66 741.2 1434.4C748.64 1434.14 746.16 1433.3 753.6 1433.51C761.04 1433.72 758.56 1435.14 766 1435.1C773.44 1435.07 770.96 1433.9 778.4 1433.39C785.84 1432.88 783.36 1433.27 790.8 1433.4C798.24 1433.53 795.76 1433.74 803.2 1433.83C810.64 1433.91 808.16 1433.57 815.6 1433.69C823.04 1433.81 820.56 1434.32 828 1434.22C835.44 1434.12 832.96 1433.66 840.4 1433.36C847.84 1433.05 845.36 1433.11 852.8 1433.2C860.24 1433.29 857.76 1433.56 865.2 1433.65C872.64 1433.74 870.16 1433.19 877.6 1433.5C885.04 1433.82 886.28 1434.34 890 1434.7"/><path d="M704 1460C707.72 1459.88 708.96 1460.02 716.4 1459.59C723.84 1459.16 721.36 1458.12 728.8 1458.58C736.24 1459.04 733.76 1460.59 741.2 1461.12C748.64 1461.65 746.16 1461 753.6 1460.34C761.04 1459.69 758.56 1459.27 766 1458.95C773.44 1458.62 770.96 1459.08 778.4 1459.26C785.84 1459.44 783.36 1459.44 790.8 1459.54C798.24 1459.64 795.76 1459.79 803.2 1459.59C810.64 1459.39 808.16 1458.43 815.6 1458.87C823.04 1459.3 820.56 1460.26 828 1461.05C835.44 1461.83 832.96 1461.82 840.4 1461.48C847.84 1461.13 845.36 1460.36 852.8 1459.9C860.24 1459.44 857.76 1460.29 865.2 1459.95C872.64 1459.61 870.16 1458.74 877.6 1458.76C885.04 1458.77 886.28 1459.63 890 1460"/><path d="M704 1485.2C707.72 1484.84 708.96 1484.15 716.4 1484.01C723.84 1483.86 721.36 1484.58 728.8 1484.73C736.24 1484.87 733.76 1484.06 741.2 1484.49C748.64 1484.93 746.16 1486.28 753.6 1486.19C761.04 1486.09 758.56 1484.91 766 1484.18C773.44 1483.46 770.96 1483.06 778.4 1483.77C785.84 1484.48 783.36 1486.1 790.8 1486.55C798.24 1487.01 795.76 1486.01 803.2 1485.28C810.64 1484.56 808.16 1484.13 815.6 1484.14C823.04 1484.15 820.56 1485.44 828 1485.33C835.44 1485.22 832.96 1483.79 840.4 1483.78C847.84 1483.77 845.36 1484.43 852.8 1485.28C860.24 1486.14 857.76 1486.33 865.2 1486.64C872.64 1486.94 870.16 1486.72 877.6 1486.29C885.04 1485.86 886.28 1485.53 890 1485.2"/><path d="M704 1510.5C707.72 1510.68 708.96 1511.3 716.4 1511.09C723.84 1510.87 721.36 1510.08 728.8 1509.78C736.24 1509.49 733.76 1510.18 741.2 1510.1C748.64 1510.02 746.16 1509.14 753.6 1509.5C761.04 1509.87 758.56 1510.99 766 1511.32C773.44 1511.64 770.96 1510.59 778.4 1510.6C785.84 1510.6 783.36 1511.52 790.8 1511.34C798.24 1511.15 795.76 1510.49 803.2 1509.99C810.64 1509.49 808.16 1509.24 815.6 1509.67C823.04 1510.1 820.56 1510.75 828 1511.43C835.44 1512.12 832.96 1511.92 840.4 1511.95C847.84 1511.99 845.36 1511.72 852.8 1511.56C860.24 1511.4 857.76 1511.45 865.2 1511.42C872.64 1511.39 870.16 1511.73 877.6 1511.45C885.04 1511.18 886.28 1510.79 890 1510.5"/><path d="M704 1536.8C707.72 1537.02 708.96 1537.77 716.4 1537.52C723.84 1537.27 721.36 1536.18 728.8 1535.98C736.24 1535.78 733.76 1536.74 741.2 1536.85C748.64 1536.97 746.16 1536.81 753.6 1536.37C761.04 1535.93 758.56 1535.68 766 1535.39C773.44 1535.09 770.96 1535.16 778.4 1535.38C785.84 1535.61 783.36 1535.93 790.8 1536.14C798.24 1536.35 795.76 1535.71 803.2 1536.08C810.64 1536.45 808.16 1536.75 815.6 1537.38C823.04 1538.01 820.56 1538.39 828 1538.17C835.44 1537.95 832.96 1536.66 840.4 1536.64C847.84 1536.62 845.36 1537.62 852.8 1538.11C860.24 1538.6 857.76 1538.25 865.2 1538.26C872.64 1538.28 870.16 1538.6 877.6 1538.17C885.04 1537.73 886.28 1537.21 890 1536.8"/><path d="M704 1562C707.72 1561.88 708.96 1561.85 716.4 1561.59C723.84 1561.34 721.36 1561.29 728.8 1561.16C736.24 1561.04 733.76 1561.2 741.2 1561.18C748.64 1561.16 746.16 1561.11 753.6 1561.09C761.04 1561.07 758.56 1560.73 766 1561.11C773.44 1561.5 770.96 1561.75 778.4 1562.37C785.84 1563 783.36 1563.01 790.8 1563.2C798.24 1563.4 795.76 1563.4 803.2 1563.02C810.64 1562.64 808.16 1562.11 815.6 1561.94C823.04 1561.77 820.56 1562.17 828 1562.46C835.44 1562.75 832.96 1563.41 840.4 1562.9C847.84 1562.39 845.36 1560.88 852.8 1560.75C860.24 1560.63 857.76 1561.74 865.2 1562.48C872.64 1563.22 870.16 1563.37 877.6 1563.23C885.04 1563.08 886.28 1562.37 890 1562"/><path d="M704 1588C707.72 1588.25 708.96 1588.62 716.4 1588.85C723.84 1589.07 721.36 1589.02 728.8 1588.75C736.24 1588.48 733.76 1588.45 741.2 1587.93C748.64 1587.42 746.16 1586.76 753.6 1587.04C761.04 1587.32 758.56 1588.73 766 1588.87C773.44 1589.01 770.96 1587.49 778.4 1587.5C785.84 1587.51 783.36 1588.33 790.8 1588.9C798.24 1589.48 795.76 1589.78 803.2 1589.41C810.64 1589.05 808.16 1588.2 815.6 1587.69C823.04 1587.17 820.56 1587.21 828 1587.7C835.44 1588.2 832.96 1589.05 840.4 1589.34C847.84 1589.63 845.36 1589.37 852.8 1588.67C860.24 1587.98 857.76 1587.55 865.2 1587.01C872.64 1586.47 870.16 1586.58 877.6 1586.88C885.04 1587.18 886.28 1587.66 890 1588"/><path d="M704 1614C707.72 1613.69 708.96 1612.59 716.4 1612.95C723.84 1613.32 721.36 1614.62 728.8 1615.21C736.24 1615.8 733.76 1615.6 741.2 1614.92C748.64 1614.24 746.16 1612.92 753.6 1612.94C761.04 1612.96 758.56 1614.23 766 1614.98C773.44 1615.73 770.96 1615.59 778.4 1615.44C785.84 1615.29 783.36 1615.04 790.8 1614.47C798.24 1613.9 795.76 1613.65 803.2 1613.55C810.64 1613.45 808.16 1614.34 815.6 1614.15C823.04 1613.95 820.56 1613.37 828 1612.89C835.44 1612.41 832.96 1611.79 840.4 1612.54C847.84 1613.3 845.36 1614.84 852.8 1615.41C860.24 1615.98 857.76 1614.85 865.2 1614.45C872.64 1614.05 870.16 1614.21 877.6 1614.08C885.04 1613.95 886.28 1614.02 890 1614"/></g>
<rect x="677.2" y="1412.3" width="27" height="227.9" rx="7.5" fill="#f8db99"/>
<rect x="889.8" y="1412.3" width="28" height="227.9" rx="7.5" fill="#86c5b0"/>
<circle cx="739.1" cy="1462.5" r="6.9" fill="url(#li)"/>
<circle cx="812.1" cy="1462.5" r="6.9" fill="url(#li)"/>
<line x1="752.7" y1="1462.9" x2="788.3" y2="1462.9" stroke="#f8d694" stroke-width="2.5"/>
<path d="M795.5 1462.9 l-9.6 -4.1 l1.6 4.1 l-1.6 4.1 z" fill="#f8d694"/>
<circle cx="775.5" cy="1510.5" r="6.9" fill="url(#li)"/>
<circle cx="853.5" cy="1510.5" r="6.9" fill="url(#li)"/>
<line x1="791.6" y1="1510.9" x2="827.2" y2="1510.9" stroke="#f8d694" stroke-width="2.5"/>
<path d="M834.4 1510.9 l-9.6 -4.1 l1.6 4.1 l-1.6 4.1 z" fill="#f8d694"/>
<circle cx="739.1" cy="1560.1" r="6.9" fill="url(#li)"/>
<circle cx="812.1" cy="1560.1" r="6.9" fill="url(#li)"/>
<line x1="752.7" y1="1560.5" x2="788.3" y2="1560.5" stroke="#f8d694" stroke-width="2.5"/>
<path d="M795.5 1560.5 l-9.6 -4.1 l1.6 4.1 l-1.6 4.1 z" fill="#f8d694"/>
<circle cx="775.3" cy="1608.4" r="6.9" fill="url(#li)"/>
<circle cx="853.5" cy="1608.4" r="6.9" fill="url(#li)"/>
<line x1="791.4" y1="1608.8" x2="827" y2="1608.8" stroke="#f8d694" stroke-width="2.5"/>
<path d="M834.2 1608.8 l-9.6 -4.1 l1.6 4.1 l-1.6 4.1 z" fill="#f8d694"/>
<text transform="translate(832.4 1468.8) scale(0.95 1)" font-size="20.54" fill="#1c1414">Li<tspan dy="-8.4" font-size="10.7">+</tspan></text>
<circle cx="863" cy="1553.3" r="16.8" fill="none" stroke="#2a2222" stroke-width="1.7"/>
<path d="M865.6 1536.8 L958 1407.6 M866 1570 L958 1627" fill="none" stroke="#3a3030" stroke-width="1.6"/>
<line x1="797.7" y1="1332.3" x2="797.7" y2="1327.9" stroke="#f1cd62" stroke-width="1.9" stroke-linecap="round"/>
<line x1="806.76" y1="1335.16" x2="809.29" y2="1331.55" stroke="#f1cd62" stroke-width="1.9" stroke-linecap="round"/>
<line x1="812.35" y1="1342.18" x2="816.43" y2="1340.53" stroke="#f1cd62" stroke-width="1.9" stroke-linecap="round"/>
<line x1="813.41" y1="1349.75" x2="817.79" y2="1350.21" stroke="#f1cd62" stroke-width="1.9" stroke-linecap="round"/>
<line x1="789.09" y1="1334.85" x2="786.7" y2="1331.16" stroke="#f1cd62" stroke-width="1.9" stroke-linecap="round"/>
<line x1="783.38" y1="1341.42" x2="779.39" y2="1339.56" stroke="#f1cd62" stroke-width="1.9" stroke-linecap="round"/>
<line x1="781.92" y1="1348.93" x2="777.53" y2="1349.16" stroke="#f1cd62" stroke-width="1.9" stroke-linecap="round"/>
<path d="M797.7 1335.7 C804.7 1335.7 810.1 1341.1 810.1 1348.1 C810.1 1354.1 803.9 1358.1 803.5 1365.7 L791.9 1365.7 C791.3 1358.1 785.3 1354.1 785.3 1348.1 C785.3 1341.1 790.7 1335.7 797.7 1335.7 Z" fill="url(#bulb)"/>
<path d="M791.9 1365.4 h11.6 v5.6 q-1 3.4 -5.8 3.6 q-4.8 -0.2 -5.8 -3.6 z" fill="#8c4c50"/>
<line x1="792.1" y1="1367.2" x2="803.3" y2="1367.2" stroke="#d9a9a6" stroke-width="0.8"/>
<line x1="792.1" y1="1369.4" x2="803.3" y2="1369.4" stroke="#d9a9a6" stroke-width="0.8"/>
<line x1="792.1" y1="1371.4" x2="803.3" y2="1371.4" stroke="#d9a9a6" stroke-width="0.8"/>
<rect x="957.8" y="1408" width="219.2" height="218.8" fill="#fff"/>
<circle cx="1066.9" cy="1463.5" r="9" fill="url(#li2)"/>
<circle cx="1009.2" cy="1520.2" r="9" fill="url(#li2)"/>
<circle cx="1127.4" cy="1520.2" r="9" fill="url(#li2)"/>
<circle cx="1066.9" cy="1572" r="9" fill="url(#li2)"/>
<g fill="url(#sb)"><circle cx="990.4" cy="1489.5" r="3.9"/><circle cx="990.4" cy="1545.1" r="3.9"/><circle cx="1144.2" cy="1489.5" r="3.9"/><circle cx="1144.2" cy="1545.1" r="3.9"/></g>
<g fill="url(#sg)"><circle cx="1044.5" cy="1420.0" r="4.8"/><circle cx="1052.2" cy="1423.0" r="4.8"/><circle cx="1039.1" cy="1426.0" r="4.8"/><circle cx="1055.2" cy="1431.1" r="4.8"/><circle cx="1042.8" cy="1433.1" r="4.8"/><circle cx="1050.2" cy="1435.7" r="4.8"/><circle cx="1047.5" cy="1428.0" r="4.8"/><circle cx="1029.5" cy="1438.4" r="4.8"/><circle cx="1025.8" cy="1444.7" r="4.8"/><circle cx="1017.8" cy="1444.7" r="4.8"/><circle cx="1031.1" cy="1451.4" r="4.8"/><circle cx="1014.1" cy="1451.4" r="4.8"/><circle cx="1027.8" cy="1456.8" r="4.8"/><circle cx="1022.4" cy="1449.7" r="4.8"/><circle cx="1019.1" cy="1466.8" r="4.8"/><circle cx="1025.8" cy="1467.4" r="4.8"/><circle cx="1017.1" cy="1472.8" r="4.8"/><circle cx="1026.5" cy="1473.5" r="4.8"/><circle cx="1018.4" cy="1478.8" r="4.8"/><circle cx="1027.1" cy="1479.5" r="4.8"/><circle cx="1022.4" cy="1483.5" r="4.8"/><circle cx="1029.8" cy="1484.1" r="4.8"/><circle cx="1021.8" cy="1460.1" r="4.8"/><circle cx="1041.8" cy="1488.8" r="4.8"/><circle cx="1048.5" cy="1492.2" r="4.8"/><circle cx="1041.1" cy="1494.8" r="4.8"/><circle cx="1051.2" cy="1496.8" r="4.8"/><circle cx="1042.5" cy="1500.2" r="4.8"/><circle cx="1050.5" cy="1504.2" r="4.8"/><circle cx="1045.2" cy="1506.8" r="4.8"/><circle cx="1051.8" cy="1510.2" r="4.8"/><circle cx="1056.5" cy="1501.5" r="4.8"/><circle cx="1007.8" cy="1470.1" r="4.8"/><circle cx="1001.7" cy="1475.5" r="4.8"/><circle cx="1005.1" cy="1476.8" r="4.8"/><circle cx="995.1" cy="1480.1" r="4.8"/><circle cx="997.7" cy="1482.8" r="4.8"/><circle cx="988.4" cy="1486.1" r="4.8"/><circle cx="992.4" cy="1488.8" r="4.8"/><circle cx="983.0" cy="1492.2" r="4.8"/><circle cx="985.7" cy="1495.5" r="4.8"/><circle cx="977.0" cy="1498.2" r="4.8"/><circle cx="980.4" cy="1502.8" r="4.8"/><circle cx="971.0" cy="1502.8" r="4.8"/><circle cx="975.0" cy="1506.8" r="4.8"/><circle cx="984.4" cy="1501.5" r="4.8"/><circle cx="989.7" cy="1496.2" r="4.8"/><circle cx="1000.4" cy="1482.1" r="4.8"/><circle cx="1044.5" cy="1614.6" r="4.8"/><circle cx="1052.2" cy="1611.6" r="4.8"/><circle cx="1039.1" cy="1608.6" r="4.8"/><circle cx="1055.2" cy="1603.5" r="4.8"/><circle cx="1042.8" cy="1601.5" r="4.8"/><circle cx="1050.2" cy="1598.9" r="4.8"/><circle cx="1047.5" cy="1606.6" r="4.8"/><circle cx="1029.5" cy="1596.2" r="4.8"/><circle cx="1025.8" cy="1589.9" r="4.8"/><circle cx="1017.8" cy="1589.9" r="4.8"/><circle cx="1031.1" cy="1583.2" r="4.8"/><circle cx="1014.1" cy="1583.2" r="4.8"/><circle cx="1027.8" cy="1577.8" r="4.8"/><circle cx="1022.4" cy="1584.9" r="4.8"/><circle cx="1019.1" cy="1567.8" r="4.8"/><circle cx="1025.8" cy="1567.2" r="4.8"/><circle cx="1017.1" cy="1561.8" r="4.8"/><circle cx="1026.5" cy="1561.1" r="4.8"/><circle cx="1018.4" cy="1555.8" r="4.8"/><circle cx="1027.1" cy="1555.1" r="4.8"/><circle cx="1022.4" cy="1551.1" r="4.8"/><circle cx="1029.8" cy="1550.5" r="4.8"/><circle cx="1021.8" cy="1574.5" r="4.8"/><circle cx="1041.8" cy="1545.8" r="4.8"/><circle cx="1048.5" cy="1542.4" r="4.8"/><circle cx="1041.1" cy="1539.8" r="4.8"/><circle cx="1051.2" cy="1537.8" r="4.8"/><circle cx="1042.5" cy="1534.4" r="4.8"/><circle cx="1050.5" cy="1530.4" r="4.8"/><circle cx="1045.2" cy="1527.8" r="4.8"/><circle cx="1051.8" cy="1524.4" r="4.8"/><circle cx="1056.5" cy="1533.1" r="4.8"/><circle cx="1007.8" cy="1564.5" r="4.8"/><circle cx="1001.7" cy="1559.1" r="4.8"/><circle cx="1005.1" cy="1557.8" r="4.8"/><circle cx="995.1" cy="1554.5" r="4.8"/><circle cx="997.7" cy="1551.8" r="4.8"/><circle cx="988.4" cy="1548.5" r="4.8"/><circle cx="992.4" cy="1545.8" r="4.8"/><circle cx="983.0" cy="1542.4" r="4.8"/><circle cx="985.7" cy="1539.1" r="4.8"/><circle cx="977.0" cy="1536.4" r="4.8"/><circle cx="980.4" cy="1531.8" r="4.8"/><circle cx="971.0" cy="1531.8" r="4.8"/><circle cx="975.0" cy="1527.8" r="4.8"/><circle cx="984.4" cy="1533.1" r="4.8"/><circle cx="989.7" cy="1538.4" r="4.8"/><circle cx="1000.4" cy="1552.5" r="4.8"/><circle cx="1090.1" cy="1420.0" r="4.8"/><circle cx="1082.4" cy="1423.0" r="4.8"/><circle cx="1095.5" cy="1426.0" r="4.8"/><circle cx="1079.4" cy="1431.1" r="4.8"/><circle cx="1091.8" cy="1433.1" r="4.8"/><circle cx="1084.4" cy="1435.7" r="4.8"/><circle cx="1087.1" cy="1428.0" r="4.8"/><circle cx="1105.1" cy="1438.4" r="4.8"/><circle cx="1108.8" cy="1444.7" r="4.8"/><circle cx="1116.8" cy="1444.7" r="4.8"/><circle cx="1103.5" cy="1451.4" r="4.8"/><circle cx="1120.5" cy="1451.4" r="4.8"/><circle cx="1106.8" cy="1456.8" r="4.8"/><circle cx="1112.2" cy="1449.7" r="4.8"/><circle cx="1115.5" cy="1466.8" r="4.8"/><circle cx="1108.8" cy="1467.4" r="4.8"/><circle cx="1117.5" cy="1472.8" r="4.8"/><circle cx="1108.1" cy="1473.5" r="4.8"/><circle cx="1116.2" cy="1478.8" r="4.8"/><circle cx="1107.5" cy="1479.5" r="4.8"/><circle cx="1112.2" cy="1483.5" r="4.8"/><circle cx="1104.8" cy="1484.1" r="4.8"/><circle cx="1112.8" cy="1460.1" r="4.8"/><circle cx="1092.8" cy="1488.8" r="4.8"/><circle cx="1086.1" cy="1492.2" r="4.8"/><circle cx="1093.5" cy="1494.8" r="4.8"/><circle cx="1083.4" cy="1496.8" r="4.8"/><circle cx="1092.1" cy="1500.2" r="4.8"/><circle cx="1084.1" cy="1504.2" r="4.8"/><circle cx="1089.4" cy="1506.8" r="4.8"/><circle cx="1082.8" cy="1510.2" r="4.8"/><circle cx="1078.1" cy="1501.5" r="4.8"/><circle cx="1126.8" cy="1470.1" r="4.8"/><circle cx="1132.9" cy="1475.5" r="4.8"/><circle cx="1129.5" cy="1476.8" r="4.8"/><circle cx="1139.5" cy="1480.1" r="4.8"/><circle cx="1136.9" cy="1482.8" r="4.8"/><circle cx="1146.2" cy="1486.1" r="4.8"/><circle cx="1142.2" cy="1488.8" r="4.8"/><circle cx="1151.6" cy="1492.2" r="4.8"/><circle cx="1148.9" cy="1495.5" r="4.8"/><circle cx="1157.6" cy="1498.2" r="4.8"/><circle cx="1154.2" cy="1502.8" r="4.8"/><circle cx="1163.6" cy="1502.8" r="4.8"/><circle cx="1159.6" cy="1506.8" r="4.8"/><circle cx="1150.2" cy="1501.5" r="4.8"/><circle cx="1144.9" cy="1496.2" r="4.8"/><circle cx="1134.2" cy="1482.1" r="4.8"/><circle cx="1090.1" cy="1614.6" r="4.8"/><circle cx="1082.4" cy="1611.6" r="4.8"/><circle cx="1095.5" cy="1608.6" r="4.8"/><circle cx="1079.4" cy="1603.5" r="4.8"/><circle cx="1091.8" cy="1601.5" r="4.8"/><circle cx="1084.4" cy="1598.9" r="4.8"/><circle cx="1087.1" cy="1606.6" r="4.8"/><circle cx="1105.1" cy="1596.2" r="4.8"/><circle cx="1108.8" cy="1589.9" r="4.8"/><circle cx="1116.8" cy="1589.9" r="4.8"/><circle cx="1103.5" cy="1583.2" r="4.8"/><circle cx="1120.5" cy="1583.2" r="4.8"/><circle cx="1106.8" cy="1577.8" r="4.8"/><circle cx="1112.2" cy="1584.9" r="4.8"/><circle cx="1115.5" cy="1567.8" r="4.8"/><circle cx="1108.8" cy="1567.2" r="4.8"/><circle cx="1117.5" cy="1561.8" r="4.8"/><circle cx="1108.1" cy="1561.1" r="4.8"/><circle cx="1116.2" cy="1555.8" r="4.8"/><circle cx="1107.5" cy="1555.1" r="4.8"/><circle cx="1112.2" cy="1551.1" r="4.8"/><circle cx="1104.8" cy="1550.5" r="4.8"/><circle cx="1112.8" cy="1574.5" r="4.8"/><circle cx="1092.8" cy="1545.8" r="4.8"/><circle cx="1086.1" cy="1542.4" r="4.8"/><circle cx="1093.5" cy="1539.8" r="4.8"/><circle cx="1083.4" cy="1537.8" r="4.8"/><circle cx="1092.1" cy="1534.4" r="4.8"/><circle cx="1084.1" cy="1530.4" r="4.8"/><circle cx="1089.4" cy="1527.8" r="4.8"/><circle cx="1082.8" cy="1524.4" r="4.8"/><circle cx="1078.1" cy="1533.1" r="4.8"/><circle cx="1126.8" cy="1564.5" r="4.8"/><circle cx="1132.9" cy="1559.1" r="4.8"/><circle cx="1129.5" cy="1557.8" r="4.8"/><circle cx="1139.5" cy="1554.5" r="4.8"/><circle cx="1136.9" cy="1551.8" r="4.8"/><circle cx="1146.2" cy="1548.5" r="4.8"/><circle cx="1142.2" cy="1545.8" r="4.8"/><circle cx="1151.6" cy="1542.4" r="4.8"/><circle cx="1148.9" cy="1539.1" r="4.8"/><circle cx="1157.6" cy="1536.4" r="4.8"/><circle cx="1154.2" cy="1531.8" r="4.8"/><circle cx="1163.6" cy="1531.8" r="4.8"/><circle cx="1159.6" cy="1527.8" r="4.8"/><circle cx="1150.2" cy="1533.1" r="4.8"/><circle cx="1144.9" cy="1538.4" r="4.8"/><circle cx="1134.2" cy="1552.5" r="4.8"/></g>
<g fill="url(#sb)"><circle cx="1037.8" cy="1439.4" r="4.8"/><circle cx="1013.1" cy="1464.1" r="4.6"/><circle cx="1034.5" cy="1488.1" r="4.6"/><circle cx="1037.8" cy="1595.2" r="4.8"/><circle cx="1013.1" cy="1570.5" r="4.6"/><circle cx="1034.5" cy="1546.5" r="4.6"/><circle cx="1096.8" cy="1439.4" r="4.8"/><circle cx="1121.5" cy="1464.1" r="4.6"/><circle cx="1100.1" cy="1488.1" r="4.6"/><circle cx="1096.8" cy="1595.2" r="4.8"/><circle cx="1121.5" cy="1570.5" r="4.6"/><circle cx="1100.1" cy="1546.5" r="4.6"/></g>
<g fill="url(#sw)"><circle cx="1040.8" cy="1415.0" r="3.5"/><circle cx="1032.8" cy="1423.7" r="3.5"/><circle cx="1061.2" cy="1433.4" r="3.3"/><circle cx="1052.2" cy="1442.4" r="3.3"/><circle cx="1025.1" cy="1432.1" r="3.3"/><circle cx="1012.4" cy="1439.4" r="3.3"/><circle cx="1006.4" cy="1451.8" r="3.3"/><circle cx="1038.5" cy="1451.8" r="3.3"/><circle cx="1021.8" cy="1456.8" r="3.5"/><circle cx="1029.8" cy="1463.4" r="3.5"/><circle cx="1035.8" cy="1475.5" r="3.3"/><circle cx="1025.8" cy="1489.1" r="3.1"/><circle cx="1016.4" cy="1484.1" r="2.8"/><circle cx="1042.5" cy="1483.1" r="3.5"/><circle cx="1051.2" cy="1490.8" r="3.5"/><circle cx="1049.2" cy="1512.9" r="2.8"/><circle cx="1002.4" cy="1471.5" r="3.6"/><circle cx="991.1" cy="1479.5" r="3.5"/><circle cx="984.0" cy="1486.1" r="3.5"/><circle cx="974.7" cy="1492.8" r="3.6"/><circle cx="965.0" cy="1500.8" r="3.5"/><circle cx="994.4" cy="1492.8" r="2.4"/><circle cx="1040.8" cy="1619.6" r="3.5"/><circle cx="1032.8" cy="1610.9" r="3.5"/><circle cx="1061.2" cy="1601.2" r="3.3"/><circle cx="1052.2" cy="1592.2" r="3.3"/><circle cx="1025.1" cy="1602.5" r="3.3"/><circle cx="1012.4" cy="1595.2" r="3.3"/><circle cx="1006.4" cy="1582.8" r="3.3"/><circle cx="1038.5" cy="1582.8" r="3.3"/><circle cx="1021.8" cy="1577.8" r="3.5"/><circle cx="1029.8" cy="1571.2" r="3.5"/><circle cx="1035.8" cy="1559.1" r="3.3"/><circle cx="1025.8" cy="1545.5" r="3.1"/><circle cx="1016.4" cy="1550.5" r="2.8"/><circle cx="1042.5" cy="1551.5" r="3.5"/><circle cx="1051.2" cy="1543.8" r="3.5"/><circle cx="1049.2" cy="1521.7" r="2.8"/><circle cx="1002.4" cy="1563.1" r="3.6"/><circle cx="991.1" cy="1555.1" r="3.5"/><circle cx="984.0" cy="1548.5" r="3.5"/><circle cx="974.7" cy="1541.8" r="3.6"/><circle cx="965.0" cy="1533.8" r="3.5"/><circle cx="994.4" cy="1541.8" r="2.4"/><circle cx="1093.8" cy="1415.0" r="3.5"/><circle cx="1101.8" cy="1423.7" r="3.5"/><circle cx="1073.4" cy="1433.4" r="3.3"/><circle cx="1082.4" cy="1442.4" r="3.3"/><circle cx="1109.5" cy="1432.1" r="3.3"/><circle cx="1122.2" cy="1439.4" r="3.3"/><circle cx="1128.2" cy="1451.8" r="3.3"/><circle cx="1096.1" cy="1451.8" r="3.3"/><circle cx="1112.8" cy="1456.8" r="3.5"/><circle cx="1104.8" cy="1463.4" r="3.5"/><circle cx="1098.8" cy="1475.5" r="3.3"/><circle cx="1108.8" cy="1489.1" r="3.1"/><circle cx="1118.2" cy="1484.1" r="2.8"/><circle cx="1092.1" cy="1483.1" r="3.5"/><circle cx="1083.4" cy="1490.8" r="3.5"/><circle cx="1085.4" cy="1512.9" r="2.8"/><circle cx="1132.2" cy="1471.5" r="3.6"/><circle cx="1143.5" cy="1479.5" r="3.5"/><circle cx="1150.6" cy="1486.1" r="3.5"/><circle cx="1159.9" cy="1492.8" r="3.6"/><circle cx="1169.6" cy="1500.8" r="3.5"/><circle cx="1140.2" cy="1492.8" r="2.4"/><circle cx="1093.8" cy="1619.6" r="3.5"/><circle cx="1101.8" cy="1610.9" r="3.5"/><circle cx="1073.4" cy="1601.2" r="3.3"/><circle cx="1082.4" cy="1592.2" r="3.3"/><circle cx="1109.5" cy="1602.5" r="3.3"/><circle cx="1122.2" cy="1595.2" r="3.3"/><circle cx="1128.2" cy="1582.8" r="3.3"/><circle cx="1096.1" cy="1582.8" r="3.3"/><circle cx="1112.8" cy="1577.8" r="3.5"/><circle cx="1104.8" cy="1571.2" r="3.5"/><circle cx="1098.8" cy="1559.1" r="3.3"/><circle cx="1108.8" cy="1545.5" r="3.1"/><circle cx="1118.2" cy="1550.5" r="2.8"/><circle cx="1092.1" cy="1551.5" r="3.5"/><circle cx="1083.4" cy="1543.8" r="3.5"/><circle cx="1085.4" cy="1521.7" r="2.8"/><circle cx="1132.2" cy="1563.1" r="3.6"/><circle cx="1143.5" cy="1555.1" r="3.5"/><circle cx="1150.6" cy="1548.5" r="3.5"/><circle cx="1159.9" cy="1541.8" r="3.6"/><circle cx="1169.6" cy="1533.8" r="3.5"/><circle cx="1140.2" cy="1541.8" r="2.4"/></g>
<g fill="url(#sr)"><circle cx="1056.6" cy="1406.8" r="4.7"/><circle cx="1056.6" cy="1627.8" r="4.7"/><circle cx="957.5" cy="1505.5" r="4.6"/><circle cx="957.5" cy="1529.1" r="4.6"/><circle cx="1078.0" cy="1406.8" r="4.7"/><circle cx="1078.0" cy="1627.8" r="4.7"/><circle cx="1177.1" cy="1505.5" r="4.6"/><circle cx="1177.1" cy="1529.1" r="4.6"/></g>
<g fill="url(#sy)"><circle cx="1058.4" cy="1416.8" r="6.6"/><circle cx="1058.4" cy="1617.8" r="6.6"/><circle cx="967.7" cy="1509.3" r="6.4"/><circle cx="967.7" cy="1525.3" r="6.4"/><circle cx="1076.2" cy="1416.8" r="6.6"/><circle cx="1076.2" cy="1617.8" r="6.6"/><circle cx="1166.9" cy="1509.3" r="6.4"/><circle cx="1166.9" cy="1525.3" r="6.4"/></g>
<g fill="url(#sr)"><circle cx="1067.3" cy="1419.6" r="4.5"/><circle cx="1067.3" cy="1615.0" r="4.5"/><circle cx="968.3" cy="1517.3" r="4.6"/><circle cx="1166.3" cy="1517.3" r="4.6"/></g>
<g fill="url(#sr)"><circle cx="1067.3" cy="1504.3" r="4.1"/><circle cx="1067.3" cy="1529.9" r="4.1"/><circle cx="1056.5" cy="1517.3" r="4.1"/><circle cx="1078.1" cy="1517.3" r="4.1"/></g>
<g fill="url(#sy)"><circle cx="1058.7" cy="1507.9" r="6.5"/><circle cx="1076.1" cy="1507.9" r="6.5"/><circle cx="1058.7" cy="1526.7" r="6.5"/><circle cx="1076.1" cy="1526.7" r="6.5"/></g>
<g fill="url(#sr)"><circle cx="1055.1" cy="1506.5" r="4.7"/><circle cx="1079.7" cy="1506.5" r="4.7"/><circle cx="1055.1" cy="1527.7" r="4.7"/><circle cx="1079.7" cy="1527.7" r="4.7"/></g>
<rect x="957.8" y="1408" width="219.2" height="218.8" fill="none" stroke="#1f1a1a" stroke-width="2.2"/>
<line x1="1030.4" y1="1520.2" x2="1104" y2="1520.2" stroke="#f9d798" stroke-width="2.2"/>
<path d="M1110.4 1520.2 l-9 -3.8 l1.4 3.8 l-1.4 3.8 z" fill="#f9d798"/>
<text transform="translate(1114.6 1504.4) scale(0.95 1)" font-size="20.97" fill="#2a1c1c">Li<tspan dy="-8.4" font-size="10.7">+</tspan></text>
<text x="659.6" y="1666.4" font-size="20.2" fill="#241c1c" textLength="63.4" lengthAdjust="spacingAndGlyphs">Anode</text>
<text x="775.9" y="1666.4" font-size="20.2" fill="#241c1c" textLength="37.5" lengthAdjust="spacingAndGlyphs">SEs</text>
<text x="862.3" y="1666.4" font-size="20.2" fill="#241c1c" textLength="81.7" lengthAdjust="spacingAndGlyphs">Cathode</text>
<text x="995.3" y="1666.4" font-size="20.2" fill="#241c1c" textLength="153.1" lengthAdjust="spacingAndGlyphs">POSS-TPA-COF</text>
<text x="938" y="1733.4" font-size="22.2" fill="#151515" text-anchor="middle" textLength="384.6" lengthAdjust="spacingAndGlyphs">Solid-State Lithium-Metal Batteries</text></g>
<g id="pf"><text x="1231.2" y="1337" font-size="41">f</text>
<path d="M1337.46 1462.01C1338.1 1462.58 1339.62 1464.6 1341.35 1465.41C1343.07 1466.22 1341.62 1466.98 1347.83 1466.87C1354.04 1466.76 1368.09 1465.63 1378.62 1464.76C1389.16 1463.9 1400.5 1462.66 1411.04 1461.69C1421.57 1460.71 1431.03 1459.98 1441.83 1458.93C1452.64 1457.88 1464.79 1456.15 1475.87 1455.36C1486.94 1454.58 1497.48 1455.35 1508.28 1454.24C1519.09 1453.14 1529.89 1451 1540.7 1448.73C1551.5 1446.46 1562.31 1443.87 1573.11 1440.63C1583.92 1437.39 1596.05 1432.66 1605.53 1429.28C1615.01 1425.91 1621.2 1423.53 1630 1420.37C1638.8 1417.21 1646.82 1414.34 1658.31 1410.33C1669.8 1406.32 1692.17 1398.66 1698.94 1396.33" fill="none" stroke="#4b4b4b" stroke-width="2.3" stroke-linecap="round"/>
<path d="M1337.29 1410.79C1341.48 1412.98 1352.83 1419.17 1362.41 1423.92C1372 1428.68 1384.02 1434.48 1394.83 1439.32C1405.63 1444.15 1419.41 1449.67 1427.24 1452.93C1435.08 1456.2 1436.43 1457.01 1441.83 1458.93C1447.23 1460.85 1451.29 1462.44 1459.66 1464.44C1468.03 1466.44 1481.27 1469.06 1492.07 1470.92C1502.88 1472.79 1513.68 1474.14 1524.49 1475.62C1535.29 1477.11 1546.1 1478.46 1556.9 1479.84C1567.71 1481.22 1578.18 1482.59 1589.32 1483.89C1600.46 1485.19 1614.54 1486.39 1623.73 1487.61C1632.93 1488.84 1638.43 1489.83 1644.48 1491.24C1650.53 1492.66 1655.86 1494.04 1660.04 1496.09C1664.22 1498.13 1666.81 1500.12 1669.55 1503.52C1672.29 1506.92 1674.45 1511.16 1676.47 1516.49C1678.48 1521.82 1680.07 1528.24 1681.65 1535.5C1683.24 1542.77 1684.15 1547.64 1685.98 1560.06C1687.8 1572.47 1691 1593.11 1692.6 1610C1694.2 1626.89 1695.1 1652.83 1695.6 1661.4" fill="none" stroke="#4b4b4b" stroke-width="2.3" stroke-linecap="round"/>
<path d="M1337.46 1461.04C1338.16 1461.69 1339.94 1463.95 1341.67 1464.93C1343.4 1465.9 1341.67 1466.9 1347.83 1466.87C1353.99 1466.84 1368.09 1465.63 1378.62 1464.76C1389.16 1463.9 1400.5 1462.66 1411.04 1461.69C1421.57 1460.71 1431.03 1459.98 1441.83 1458.93C1452.64 1457.88 1464.79 1456.31 1475.87 1455.36C1486.94 1454.42 1497.48 1454.52 1508.28 1453.24C1519.09 1451.97 1529.89 1450 1540.7 1447.73C1551.5 1445.46 1562.31 1442.87 1573.11 1439.63C1583.92 1436.39 1596.05 1431.66 1605.53 1428.28C1615.01 1424.91 1621.2 1422.59 1630 1419.37C1638.8 1416.15 1647.69 1412.88 1658.31 1408.95C1668.94 1405.02 1687.85 1398 1693.76 1395.81" fill="none" stroke="#ff6a6c" stroke-width="2.3" stroke-linecap="round"/>
<path d="M1337.29 1410.49C1341.48 1412.68 1352.83 1418.87 1362.41 1423.62C1372 1428.38 1384.02 1434.18 1394.83 1439.02C1405.63 1443.85 1419.41 1449.37 1427.24 1452.63C1435.08 1455.9 1436.43 1456.71 1441.83 1458.63C1447.23 1460.55 1451.29 1462.14 1459.66 1464.14C1468.03 1466.14 1481.27 1468.76 1492.07 1470.62C1502.88 1472.49 1513.68 1473.84 1524.49 1475.32C1535.29 1476.81 1546.1 1478.16 1556.9 1479.54C1567.71 1480.92 1578.18 1482.27 1589.32 1483.59C1600.46 1484.91 1614.83 1486.17 1623.73 1487.44C1632.64 1488.72 1637.13 1489.78 1642.75 1491.24C1648.37 1492.71 1653.47 1494.07 1657.45 1496.26C1661.42 1498.45 1663.93 1500.72 1666.61 1504.38C1669.29 1508.04 1671.6 1512.74 1673.53 1518.22C1675.46 1523.69 1676.7 1530.26 1678.2 1537.23C1679.69 1544.21 1680.72 1547.93 1682.52 1560.06C1684.32 1572.18 1687.45 1593.11 1689 1610C1690.55 1626.89 1691.33 1652.83 1691.8 1661.4" fill="none" stroke="#ff6a6c" stroke-width="2.3" stroke-linecap="round"/>
<path d="M1337.46 1462.98C1338.1 1463.47 1339.62 1465.08 1341.35 1465.9C1343.07 1466.71 1341.62 1467.89 1347.83 1467.87C1354.04 1467.85 1368.09 1466.63 1378.62 1465.76C1389.16 1464.9 1400.5 1463.66 1411.04 1462.69C1421.57 1461.71 1431.03 1460.98 1441.83 1459.93C1452.64 1458.88 1464.79 1457.4 1475.87 1456.36C1486.94 1455.33 1497.48 1455.1 1508.28 1453.74C1519.09 1452.39 1529.89 1450.5 1540.7 1448.23C1551.5 1445.96 1562.31 1443.37 1573.11 1440.13C1583.92 1436.89 1596.05 1432.16 1605.53 1428.78C1615.01 1425.41 1621.2 1423.12 1630 1419.87C1638.8 1416.62 1648.06 1413.28 1658.31 1409.29C1668.56 1405.31 1685.98 1398.2 1691.51 1395.98" fill="none" stroke="#44b4ff" stroke-width="2.5" stroke-linecap="round"/>
<path d="M1337.29 1411.09C1341.48 1413.28 1352.83 1419.47 1362.41 1424.22C1372 1428.98 1384.02 1434.78 1394.83 1439.62C1405.63 1444.45 1419.41 1449.97 1427.24 1453.23C1435.08 1456.5 1436.43 1457.31 1441.83 1459.23C1447.23 1461.15 1451.29 1462.74 1459.66 1464.74C1468.03 1466.74 1481.27 1469.36 1492.07 1471.22C1502.88 1473.09 1513.68 1474.44 1524.49 1475.92C1535.29 1477.41 1546.1 1478.76 1556.9 1480.14C1567.71 1481.52 1578.18 1482.83 1589.32 1484.19C1600.46 1485.55 1615.12 1486.99 1623.73 1488.31C1632.35 1489.63 1635.84 1490.64 1641.02 1492.11C1646.21 1493.58 1651.11 1494.96 1654.85 1497.12C1658.6 1499.28 1660.96 1501.56 1663.5 1505.08C1666.04 1508.59 1668.2 1512.86 1670.07 1518.22C1671.94 1523.58 1673.33 1530.26 1674.74 1537.23C1676.15 1544.21 1676.9 1547.93 1678.54 1560.06C1680.18 1572.18 1683.16 1593.11 1684.6 1610C1686.04 1626.89 1686.77 1652.83 1687.2 1661.4" fill="none" stroke="#44b4ff" stroke-width="2.5" stroke-linecap="round"/>
<path d="M1337.46 1462.33C1338.1 1462.87 1339.62 1464.82 1341.35 1465.58C1343.07 1466.33 1341.62 1467.01 1347.83 1466.87C1354.04 1466.74 1368.09 1465.63 1378.62 1464.76C1389.16 1463.9 1400.5 1462.66 1411.04 1461.69C1421.57 1460.71 1431.03 1459.98 1441.83 1458.93C1452.64 1457.88 1464.79 1456.63 1475.87 1455.36C1486.94 1454.1 1497.48 1453.31 1508.28 1451.31C1519.09 1449.31 1529.89 1446.56 1540.7 1443.37C1551.5 1440.18 1562.31 1436.65 1573.11 1432.19C1583.92 1427.73 1596.05 1421.27 1605.53 1416.63C1615.01 1411.98 1622.5 1407.78 1630 1404.31C1637.5 1400.84 1647.11 1397.23 1650.53 1395.81" fill="none" stroke="#7b7b7b" stroke-width="2.3" stroke-linecap="round"/>
<path d="M1337.29 1412.41C1341.48 1414.85 1352.83 1422 1362.41 1427C1372 1432 1384.02 1437.64 1394.83 1442.4C1405.63 1447.15 1419.41 1452.47 1427.24 1455.53C1435.08 1458.58 1436.43 1458.85 1441.83 1460.71C1447.23 1462.58 1451.29 1464.55 1459.66 1466.71C1468.03 1468.87 1481.27 1471.76 1492.07 1473.68C1502.88 1475.6 1513.68 1476.73 1524.49 1478.22C1535.29 1479.7 1546.1 1481.11 1556.9 1482.59C1567.71 1484.08 1581.22 1485.7 1589.32 1487.13C1597.42 1488.56 1600.66 1489.54 1605.53 1491.18C1610.39 1492.83 1614.98 1494.42 1618.49 1497.02C1622 1499.61 1623.99 1502.34 1626.6 1506.74C1629.2 1511.14 1631.99 1517.46 1634.11 1523.4C1636.22 1529.35 1637.85 1536.31 1639.29 1542.42C1640.74 1548.53 1641.37 1548.79 1642.75 1560.06C1644.14 1571.32 1646.43 1593.11 1647.6 1610C1648.77 1626.89 1649.43 1652.83 1649.8 1661.4" fill="none" stroke="#7b7b7b" stroke-width="2.3" stroke-linecap="round"/>
<rect x="1337.2" y="1316.3" width="458" height="369" fill="none" stroke="#3d3d3d" stroke-width="2"/>
<line x1="1330.2" y1="1685.3" x2="1337.2" y2="1685.3" stroke="#3d3d3d" stroke-width="2"/>
<text transform="translate(1323.8 1691.9) scale(0.95 1)" font-size="19.69" text-anchor="end">2.0</text>
<line x1="1333.7" y1="1654.55" x2="1337.2" y2="1654.55" stroke="#3d3d3d" stroke-width="1.6"/>
<line x1="1330.2" y1="1623.8" x2="1337.2" y2="1623.8" stroke="#3d3d3d" stroke-width="2"/>
<text transform="translate(1323.8 1630.4) scale(0.95 1)" font-size="19.69" text-anchor="end">2.5</text>
<line x1="1333.7" y1="1593.05" x2="1337.2" y2="1593.05" stroke="#3d3d3d" stroke-width="1.6"/>
<line x1="1330.2" y1="1562.3" x2="1337.2" y2="1562.3" stroke="#3d3d3d" stroke-width="2"/>
<text transform="translate(1323.8 1568.9) scale(0.95 1)" font-size="19.69" text-anchor="end">3.0</text>
<line x1="1333.7" y1="1531.55" x2="1337.2" y2="1531.55" stroke="#3d3d3d" stroke-width="1.6"/>
<line x1="1330.2" y1="1500.8" x2="1337.2" y2="1500.8" stroke="#3d3d3d" stroke-width="2"/>
<text transform="translate(1323.8 1507.4) scale(0.95 1)" font-size="19.69" text-anchor="end">3.5</text>
<line x1="1333.7" y1="1470.05" x2="1337.2" y2="1470.05" stroke="#3d3d3d" stroke-width="1.6"/>
<line x1="1330.2" y1="1439.3" x2="1337.2" y2="1439.3" stroke="#3d3d3d" stroke-width="2"/>
<text transform="translate(1323.8 1445.9) scale(0.95 1)" font-size="19.69" text-anchor="end">4.0</text>
<line x1="1333.7" y1="1408.55" x2="1337.2" y2="1408.55" stroke="#3d3d3d" stroke-width="1.6"/>
<line x1="1330.2" y1="1377.8" x2="1337.2" y2="1377.8" stroke="#3d3d3d" stroke-width="2"/>
<text transform="translate(1323.8 1384.4) scale(0.95 1)" font-size="19.69" text-anchor="end">4.5</text>
<line x1="1333.7" y1="1347.05" x2="1337.2" y2="1347.05" stroke="#3d3d3d" stroke-width="1.6"/>
<line x1="1330.2" y1="1316.3" x2="1337.2" y2="1316.3" stroke="#3d3d3d" stroke-width="2"/>
<text transform="translate(1323.8 1322.9) scale(0.95 1)" font-size="19.69" text-anchor="end">5.0</text>
<line x1="1337.2" y1="1685.3" x2="1337.2" y2="1692.3" stroke="#3d3d3d" stroke-width="2"/>
<text transform="translate(1337.2 1713) scale(0.95 1)" font-size="19.37" text-anchor="middle">0</text>
<line x1="1394.45" y1="1685.3" x2="1394.45" y2="1688.8" stroke="#3d3d3d" stroke-width="1.6"/>
<line x1="1451.7" y1="1685.3" x2="1451.7" y2="1692.3" stroke="#3d3d3d" stroke-width="2"/>
<text transform="translate(1451.7 1713) scale(0.95 1)" font-size="19.37" text-anchor="middle">50</text>
<line x1="1508.95" y1="1685.3" x2="1508.95" y2="1688.8" stroke="#3d3d3d" stroke-width="1.6"/>
<line x1="1566.2" y1="1685.3" x2="1566.2" y2="1692.3" stroke="#3d3d3d" stroke-width="2"/>
<text transform="translate(1566.2 1713) scale(0.95 1)" font-size="19.37" text-anchor="middle">100</text>
<line x1="1623.45" y1="1685.3" x2="1623.45" y2="1688.8" stroke="#3d3d3d" stroke-width="1.6"/>
<line x1="1680.7" y1="1685.3" x2="1680.7" y2="1692.3" stroke="#3d3d3d" stroke-width="2"/>
<text transform="translate(1680.7 1713) scale(0.95 1)" font-size="19.37" text-anchor="middle">150</text>
<line x1="1737.95" y1="1685.3" x2="1737.95" y2="1688.8" stroke="#3d3d3d" stroke-width="1.6"/>
<line x1="1795.2" y1="1685.3" x2="1795.2" y2="1692.3" stroke="#3d3d3d" stroke-width="2"/>
<text transform="translate(1795.2 1713) scale(0.95 1)" font-size="19.37" text-anchor="middle">200</text>
<text transform="translate(1571.6 1743.4) scale(0.95 1)" font-size="21.88" text-anchor="middle">Capacity (mAh g<tspan dy="-8" font-size="14.98">-1</tspan><tspan dy="8">)</tspan></text>
<text transform="translate(1277 1497.6) rotate(-90) scale(0.95 1)" font-size="22.47" text-anchor="middle">Voltage (V)</text>
<line x1="1349.8" y1="1333.2" x2="1398.2" y2="1333.2" stroke="#4b4b4b" stroke-width="2.3"/>
<text transform="translate(1403.4 1340.4) scale(0.95 1)" font-size="21.83">1st cycle</text>
<line x1="1349.8" y1="1359.7" x2="1398.2" y2="1359.7" stroke="#ff6a6c" stroke-width="2.3"/>
<text transform="translate(1403.4 1366.9) scale(0.95 1)" font-size="21.83">10th cycle</text>
<line x1="1349.8" y1="1386" x2="1398.2" y2="1386" stroke="#44b4ff" stroke-width="2.3"/>
<text transform="translate(1403.4 1393.2) scale(0.95 1)" font-size="21.83">20th cycle</text>
<line x1="1349.8" y1="1412.4" x2="1398.2" y2="1412.4" stroke="#7b7b7b" stroke-width="2.3"/>
<text transform="translate(1403.4 1419.6) scale(0.95 1)" font-size="21.83">100th cycle</text>
<text transform="translate(1346 1615.4) scale(0.95 1)" font-size="21.72">25 <tspan dy="-7.4" font-size="15.62">o</tspan><tspan dy="7.4">C</tspan></text>
<text transform="translate(1346 1641.4) scale(0.95 1)" font-size="21.72">0.5 C</text>
<text transform="translate(1346 1667.6) scale(0.95 1)" font-size="22.04" fill="#cb1218">POSS-TPA-COF</text></g>
</svg>
</body>
</html>
